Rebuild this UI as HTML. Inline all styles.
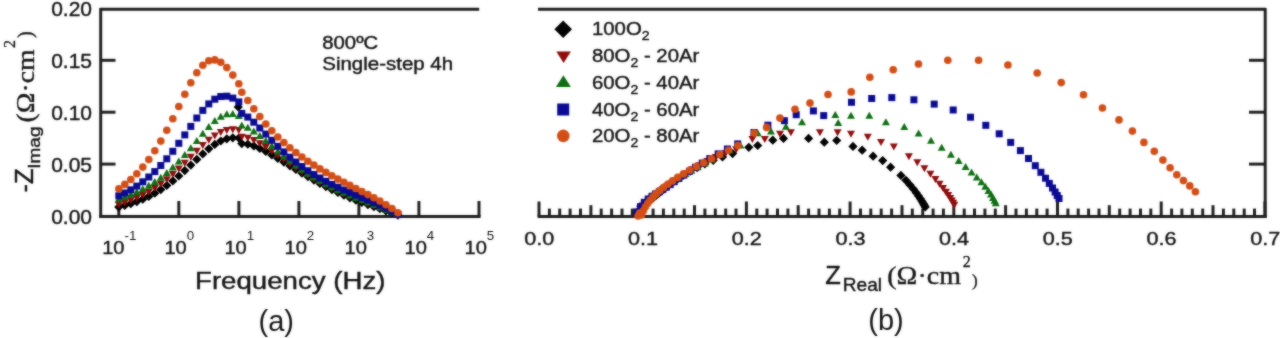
<!DOCTYPE html>
<html><head><meta charset="utf-8"><style>
html,body{margin:0;padding:0;background:#fff;}
body{width:1280px;height:338px;overflow:hidden;}
svg{display:block;}

</style></head><body>
<svg width="1280" height="338" viewBox="0 0 1280 338">
<defs><filter id="bl" x="-2%" y="-5%" width="104%" height="110%" color-interpolation-filters="sRGB"><feGaussianBlur stdDeviation="1.0"/></filter><filter id="idf" x="0" y="0" width="100%" height="100%"><feOffset dx="0" dy="0"/></filter></defs>
<g filter="url(#bl)"><rect width="1280" height="338" fill="#fff"/>
<g>
<g stroke="#1e1e1e" stroke-width="2.95" fill="none" stroke-linecap="butt"><path d="M100.7 9.2H479.2"/><path d="M100.7 7.9V217.8"/><path d="M99.3 216.4H480.6"/><path d="M100.7 164.1H115.5"/><path d="M100.7 112.2H115.5"/><path d="M100.7 60.3H115.5"/><path d="M118.8 201V216.4"/><path d="M178.8 201V216.4"/><path d="M238.9 201V216.4"/><path d="M298.9 201V216.4"/><path d="M358.9 201V216.4"/><path d="M418.9 201V216.4"/><path d="M479.0 201V216.4"/><path d="M538 9.2H1265.2"/><path d="M1265.2 7.9V217.8"/><path d="M537.6 216.4H1266.8"/><path d="M1249 164.1H1265.3"/><path d="M1249 112.2H1265.3"/><path d="M1249 60.3H1265.3"/><path d="M539.0 201.5V216.4"/><path d="M549.4 208.6V216.4"/><path d="M559.7 208.6V216.4"/><path d="M570.1 208.6V216.4"/><path d="M580.5 208.6V216.4"/><path d="M590.9 205.2V216.4"/><path d="M601.2 208.6V216.4"/><path d="M611.6 208.6V216.4"/><path d="M622.0 208.6V216.4"/><path d="M632.3 208.6V216.4"/><path d="M642.7 201.5V216.4"/><path d="M653.1 208.6V216.4"/><path d="M663.4 208.6V216.4"/><path d="M673.8 208.6V216.4"/><path d="M684.2 208.6V216.4"/><path d="M694.5 205.2V216.4"/><path d="M704.9 208.6V216.4"/><path d="M715.3 208.6V216.4"/><path d="M725.7 208.6V216.4"/><path d="M736.0 208.6V216.4"/><path d="M746.4 201.5V216.4"/><path d="M756.8 208.6V216.4"/><path d="M767.1 208.6V216.4"/><path d="M777.5 208.6V216.4"/><path d="M787.9 208.6V216.4"/><path d="M798.2 205.2V216.4"/><path d="M808.6 208.6V216.4"/><path d="M819.0 208.6V216.4"/><path d="M829.4 208.6V216.4"/><path d="M839.7 208.6V216.4"/><path d="M850.1 201.5V216.4"/><path d="M860.5 208.6V216.4"/><path d="M870.8 208.6V216.4"/><path d="M881.2 208.6V216.4"/><path d="M891.6 208.6V216.4"/><path d="M902.0 205.2V216.4"/><path d="M912.3 208.6V216.4"/><path d="M922.7 208.6V216.4"/><path d="M933.1 208.6V216.4"/><path d="M943.4 208.6V216.4"/><path d="M953.8 201.5V216.4"/><path d="M964.2 208.6V216.4"/><path d="M974.5 208.6V216.4"/><path d="M984.9 208.6V216.4"/><path d="M995.3 208.6V216.4"/><path d="M1005.6 205.2V216.4"/><path d="M1016.0 208.6V216.4"/><path d="M1026.4 208.6V216.4"/><path d="M1036.8 208.6V216.4"/><path d="M1047.1 208.6V216.4"/><path d="M1057.5 201.5V216.4"/><path d="M1067.9 208.6V216.4"/><path d="M1078.2 208.6V216.4"/><path d="M1088.6 208.6V216.4"/><path d="M1099.0 208.6V216.4"/><path d="M1109.3 205.2V216.4"/><path d="M1119.7 208.6V216.4"/><path d="M1130.1 208.6V216.4"/><path d="M1140.5 208.6V216.4"/><path d="M1150.8 208.6V216.4"/><path d="M1161.2 201.5V216.4"/><path d="M1171.6 208.6V216.4"/><path d="M1181.9 208.6V216.4"/><path d="M1192.3 208.6V216.4"/><path d="M1202.7 208.6V216.4"/><path d="M1213.0 205.2V216.4"/><path d="M1223.4 208.6V216.4"/><path d="M1233.8 208.6V216.4"/><path d="M1244.2 208.6V216.4"/><path d="M1254.5 208.6V216.4"/><path d="M1264.9 201.5V216.4"/></g>
<g><path d="M118.8 202.5L123.4 207.1L118.8 211.7L114.2 207.1Z" fill="#000000"/><path d="M124.8 200.9L129.4 205.5L124.8 210.1L120.2 205.5Z" fill="#000000"/><path d="M130.8 199.1L135.4 203.7L130.8 208.3L126.2 203.7Z" fill="#000000"/><path d="M136.8 197.0L141.4 201.6L136.8 206.2L132.2 201.6Z" fill="#000000"/><path d="M142.8 194.6L147.4 199.2L142.8 203.8L138.2 199.2Z" fill="#000000"/><path d="M148.8 191.8L153.4 196.4L148.8 201.0L144.2 196.4Z" fill="#000000"/><path d="M154.8 188.6L159.4 193.2L154.8 197.8L150.2 193.2Z" fill="#000000"/><path d="M160.8 185.0L165.4 189.6L160.8 194.2L156.2 189.6Z" fill="#000000"/><path d="M166.8 180.9L171.4 185.5L166.8 190.1L162.2 185.5Z" fill="#000000"/><path d="M172.8 176.3L177.4 180.9L172.8 185.5L168.2 180.9Z" fill="#000000"/><path d="M178.8 171.4L183.4 176.0L178.8 180.6L174.2 176.0Z" fill="#000000"/><path d="M184.8 166.0L189.4 170.6L184.8 175.2L180.2 170.6Z" fill="#000000"/><path d="M190.8 160.5L195.4 165.1L190.8 169.7L186.2 165.1Z" fill="#000000"/><path d="M196.8 154.8L201.4 159.4L196.8 164.0L192.2 159.4Z" fill="#000000"/><path d="M202.8 149.3L207.4 153.9L202.8 158.5L198.2 153.9Z" fill="#000000"/><path d="M208.8 144.2L213.4 148.8L208.8 153.4L204.2 148.8Z" fill="#000000"/><path d="M214.8 139.8L219.4 144.4L214.8 149.0L210.2 144.4Z" fill="#000000"/><path d="M220.8 136.4L225.4 141.0L220.8 145.6L216.2 141.0Z" fill="#000000"/><path d="M226.8 134.2L231.4 138.8L226.8 143.4L222.2 138.8Z" fill="#000000"/><path d="M232.8 133.2L237.4 137.8L232.8 142.4L228.2 137.8Z" fill="#000000"/><path d="M238.8 133.4L243.4 138.0L238.8 142.6L234.2 138.0Z" fill="#000000"/><path d="M241.8 139.0L246.4 143.6L241.8 148.2L237.2 143.6Z" fill="#000000"/><path d="M247.8 139.6L252.4 144.2L247.8 148.8L243.2 144.2Z" fill="#000000"/><path d="M253.8 141.4L258.4 146.0L253.8 150.6L249.2 146.0Z" fill="#000000"/><path d="M259.8 143.9L264.4 148.5L259.8 153.1L255.2 148.5Z" fill="#000000"/><path d="M265.8 146.9L270.4 151.5L265.8 156.1L261.2 151.5Z" fill="#000000"/><path d="M271.8 150.3L276.4 154.9L271.8 159.5L267.2 154.9Z" fill="#000000"/><path d="M277.8 153.9L282.4 158.5L277.8 163.1L273.2 158.5Z" fill="#000000"/><path d="M283.9 157.5L288.5 162.1L283.9 166.7L279.3 162.1Z" fill="#000000"/><path d="M289.9 161.2L294.5 165.8L289.9 170.4L285.3 165.8Z" fill="#000000"/><path d="M295.9 164.9L300.5 169.5L295.9 174.1L291.3 169.5Z" fill="#000000"/><path d="M301.9 168.5L306.5 173.1L301.9 177.7L297.3 173.1Z" fill="#000000"/><path d="M307.9 172.0L312.5 176.6L307.9 181.2L303.3 176.6Z" fill="#000000"/><path d="M313.9 175.5L318.5 180.1L313.9 184.7L309.3 180.1Z" fill="#000000"/><path d="M319.9 178.8L324.5 183.4L319.9 188.0L315.3 183.4Z" fill="#000000"/><path d="M325.9 182.0L330.5 186.6L325.9 191.2L321.3 186.6Z" fill="#000000"/><path d="M331.9 185.0L336.5 189.6L331.9 194.2L327.3 189.6Z" fill="#000000"/><path d="M337.9 187.9L342.5 192.5L337.9 197.1L333.3 192.5Z" fill="#000000"/><path d="M343.9 190.6L348.5 195.2L343.9 199.8L339.3 195.2Z" fill="#000000"/><path d="M349.9 193.2L354.5 197.8L349.9 202.4L345.3 197.8Z" fill="#000000"/><path d="M355.9 195.6L360.5 200.2L355.9 204.8L351.3 200.2Z" fill="#000000"/><path d="M361.9 197.9L366.5 202.5L361.9 207.1L357.3 202.5Z" fill="#000000"/><path d="M367.9 200.0L372.5 204.6L367.9 209.2L363.3 204.6Z" fill="#000000"/><path d="M373.9 202.1L378.5 206.7L373.9 211.3L369.3 206.7Z" fill="#000000"/><path d="M379.9 204.1L384.5 208.7L379.9 213.3L375.3 208.7Z" fill="#000000"/><path d="M385.9 206.2L390.5 210.8L385.9 215.4L381.3 210.8Z" fill="#000000"/><path d="M391.9 208.3L396.5 212.9L391.9 217.5L387.3 212.9Z" fill="#000000"/><path d="M397.9 210.5L402.5 215.1L397.9 219.7L393.3 215.1Z" fill="#000000"/><path d="M238.2 102.4L242.8 107.0L238.2 111.6L233.6 107.0Z" fill="#000000"/><path d="M118.8 208.4L122.8 201.4L114.8 201.4Z" fill="#8e0c0c"/><path d="M124.8 206.5L128.8 199.5L120.8 199.5Z" fill="#8e0c0c"/><path d="M130.8 204.3L134.8 197.3L126.8 197.3Z" fill="#8e0c0c"/><path d="M136.8 201.8L140.8 194.8L132.8 194.8Z" fill="#8e0c0c"/><path d="M142.8 198.9L146.8 191.9L138.8 191.9Z" fill="#8e0c0c"/><path d="M148.8 195.7L152.8 188.7L144.8 188.7Z" fill="#8e0c0c"/><path d="M154.8 192.0L158.8 185.0L150.8 185.0Z" fill="#8e0c0c"/><path d="M160.8 187.8L164.8 180.8L156.8 180.8Z" fill="#8e0c0c"/><path d="M166.8 183.2L170.8 176.2L162.8 176.2Z" fill="#8e0c0c"/><path d="M172.8 178.1L176.8 171.1L168.8 171.1Z" fill="#8e0c0c"/><path d="M178.8 172.6L182.8 165.6L174.8 165.6Z" fill="#8e0c0c"/><path d="M184.8 166.8L188.8 159.8L180.8 159.8Z" fill="#8e0c0c"/><path d="M190.8 160.8L194.8 153.8L186.8 153.8Z" fill="#8e0c0c"/><path d="M196.8 154.8L200.8 147.8L192.8 147.8Z" fill="#8e0c0c"/><path d="M202.8 149.0L206.8 142.0L198.8 142.0Z" fill="#8e0c0c"/><path d="M208.8 143.8L212.8 136.8L204.8 136.8Z" fill="#8e0c0c"/><path d="M214.8 139.4L218.8 132.4L210.8 132.4Z" fill="#8e0c0c"/><path d="M220.8 136.0L224.8 129.0L216.8 129.0Z" fill="#8e0c0c"/><path d="M226.8 134.0L230.8 127.0L222.8 127.0Z" fill="#8e0c0c"/><path d="M232.8 133.3L236.8 126.3L228.8 126.3Z" fill="#8e0c0c"/><path d="M238.8 134.0L242.8 127.0L234.8 127.0Z" fill="#8e0c0c"/><path d="M241.8 140.8L245.8 133.8L237.8 133.8Z" fill="#8e0c0c"/><path d="M247.8 141.8L251.8 134.8L243.8 134.8Z" fill="#8e0c0c"/><path d="M253.8 144.0L257.8 137.0L249.8 137.0Z" fill="#8e0c0c"/><path d="M259.8 147.2L263.8 140.2L255.8 140.2Z" fill="#8e0c0c"/><path d="M265.8 150.9L269.8 143.9L261.8 143.9Z" fill="#8e0c0c"/><path d="M271.8 155.0L275.8 148.0L267.8 148.0Z" fill="#8e0c0c"/><path d="M277.8 159.3L281.8 152.3L273.8 152.3Z" fill="#8e0c0c"/><path d="M283.9 163.5L287.9 156.5L279.9 156.5Z" fill="#8e0c0c"/><path d="M289.9 167.7L293.9 160.7L285.9 160.7Z" fill="#8e0c0c"/><path d="M295.9 171.7L299.9 164.7L291.9 164.7Z" fill="#8e0c0c"/><path d="M301.9 175.6L305.9 168.6L297.9 168.6Z" fill="#8e0c0c"/><path d="M307.9 179.3L311.9 172.3L303.9 172.3Z" fill="#8e0c0c"/><path d="M313.9 182.8L317.9 175.8L309.9 175.8Z" fill="#8e0c0c"/><path d="M319.9 186.1L323.9 179.1L315.9 179.1Z" fill="#8e0c0c"/><path d="M325.9 189.2L329.9 182.2L321.9 182.2Z" fill="#8e0c0c"/><path d="M331.9 192.2L335.9 185.2L327.9 185.2Z" fill="#8e0c0c"/><path d="M337.9 195.0L341.9 188.0L333.9 188.0Z" fill="#8e0c0c"/><path d="M343.9 197.7L347.9 190.7L339.9 190.7Z" fill="#8e0c0c"/><path d="M349.9 200.2L353.9 193.2L345.9 193.2Z" fill="#8e0c0c"/><path d="M355.9 202.6L359.9 195.6L351.9 195.6Z" fill="#8e0c0c"/><path d="M361.9 204.9L365.9 197.9L357.9 197.9Z" fill="#8e0c0c"/><path d="M367.9 207.2L371.9 200.2L363.9 200.2Z" fill="#8e0c0c"/><path d="M373.9 209.4L377.9 202.4L369.9 202.4Z" fill="#8e0c0c"/><path d="M379.9 211.6L383.9 204.6L375.9 204.6Z" fill="#8e0c0c"/><path d="M385.9 213.8L389.9 206.8L381.9 206.8Z" fill="#8e0c0c"/><path d="M391.9 216.2L395.9 209.2L387.9 209.2Z" fill="#8e0c0c"/><path d="M397.9 218.8L401.9 211.8L393.9 211.8Z" fill="#8e0c0c"/><path d="M118.8 195.3L122.8 202.3L114.8 202.3Z" fill="#0e6e12"/><path d="M124.8 193.2L128.8 200.2L120.8 200.2Z" fill="#0e6e12"/><path d="M130.8 190.8L134.8 197.8L126.8 197.8Z" fill="#0e6e12"/><path d="M136.8 188.2L140.8 195.2L132.8 195.2Z" fill="#0e6e12"/><path d="M142.8 185.2L146.8 192.2L138.8 192.2Z" fill="#0e6e12"/><path d="M148.8 181.8L152.8 188.8L144.8 188.8Z" fill="#0e6e12"/><path d="M154.8 177.9L158.8 184.9L150.8 184.9Z" fill="#0e6e12"/><path d="M160.8 173.7L164.8 180.7L156.8 180.7Z" fill="#0e6e12"/><path d="M166.8 168.9L170.8 175.9L162.8 175.9Z" fill="#0e6e12"/><path d="M172.8 163.5L176.8 170.5L168.8 170.5Z" fill="#0e6e12"/><path d="M178.8 157.6L182.8 164.6L174.8 164.6Z" fill="#0e6e12"/><path d="M184.8 151.1L188.8 158.1L180.8 158.1Z" fill="#0e6e12"/><path d="M190.8 144.2L194.8 151.2L186.8 151.2Z" fill="#0e6e12"/><path d="M196.8 137.0L200.8 144.0L192.8 144.0Z" fill="#0e6e12"/><path d="M202.8 129.8L206.8 136.8L198.8 136.8Z" fill="#0e6e12"/><path d="M208.8 123.0L212.8 130.0L204.8 130.0Z" fill="#0e6e12"/><path d="M214.8 117.1L218.8 124.1L210.8 124.1Z" fill="#0e6e12"/><path d="M220.8 112.7L224.8 119.7L216.8 119.7Z" fill="#0e6e12"/><path d="M226.8 110.3L230.8 117.3L222.8 117.3Z" fill="#0e6e12"/><path d="M232.8 110.0L236.8 117.0L228.8 117.0Z" fill="#0e6e12"/><path d="M238.8 111.9L242.8 118.9L234.8 118.9Z" fill="#0e6e12"/><path d="M241.8 121.5L245.8 128.5L237.8 128.5Z" fill="#0e6e12"/><path d="M247.8 123.7L251.8 130.7L243.8 130.7Z" fill="#0e6e12"/><path d="M253.8 127.5L257.8 134.5L249.8 134.5Z" fill="#0e6e12"/><path d="M259.8 132.1L263.8 139.1L255.8 139.1Z" fill="#0e6e12"/><path d="M265.8 137.1L269.8 144.1L261.8 144.1Z" fill="#0e6e12"/><path d="M271.8 142.3L275.8 149.3L267.8 149.3Z" fill="#0e6e12"/><path d="M277.8 147.5L281.8 154.5L273.8 154.5Z" fill="#0e6e12"/><path d="M283.9 152.4L287.9 159.4L279.9 159.4Z" fill="#0e6e12"/><path d="M289.9 157.1L293.9 164.1L285.9 164.1Z" fill="#0e6e12"/><path d="M295.9 161.6L299.9 168.6L291.9 168.6Z" fill="#0e6e12"/><path d="M301.9 165.8L305.9 172.8L297.9 172.8Z" fill="#0e6e12"/><path d="M307.9 169.8L311.9 176.8L303.9 176.8Z" fill="#0e6e12"/><path d="M313.9 173.5L317.9 180.5L309.9 180.5Z" fill="#0e6e12"/><path d="M319.9 177.0L323.9 184.0L315.9 184.0Z" fill="#0e6e12"/><path d="M325.9 180.3L329.9 187.3L321.9 187.3Z" fill="#0e6e12"/><path d="M331.9 183.3L335.9 190.3L327.9 190.3Z" fill="#0e6e12"/><path d="M337.9 186.2L341.9 193.2L333.9 193.2Z" fill="#0e6e12"/><path d="M343.9 188.9L347.9 195.9L339.9 195.9Z" fill="#0e6e12"/><path d="M349.9 191.5L353.9 198.5L345.9 198.5Z" fill="#0e6e12"/><path d="M355.9 194.0L359.9 201.0L351.9 201.0Z" fill="#0e6e12"/><path d="M361.9 196.3L365.9 203.3L357.9 203.3Z" fill="#0e6e12"/><path d="M367.9 198.6L371.9 205.6L363.9 205.6Z" fill="#0e6e12"/><path d="M373.9 200.9L377.9 207.9L369.9 207.9Z" fill="#0e6e12"/><path d="M379.9 203.2L383.9 210.2L375.9 210.2Z" fill="#0e6e12"/><path d="M385.9 205.7L389.9 212.7L381.9 212.7Z" fill="#0e6e12"/><path d="M391.9 208.2L395.9 215.2L387.9 215.2Z" fill="#0e6e12"/><path d="M397.9 211.1L401.9 218.1L393.9 218.1Z" fill="#0e6e12"/><rect x="115.3" y="192.3" width="7.0" height="7.0" fill="#0a0a92"/><rect x="121.3" y="189.5" width="7.0" height="7.0" fill="#0a0a92"/><rect x="127.3" y="186.3" width="7.0" height="7.0" fill="#0a0a92"/><rect x="133.3" y="182.6" width="7.0" height="7.0" fill="#0a0a92"/><rect x="139.3" y="178.3" width="7.0" height="7.0" fill="#0a0a92"/><rect x="145.3" y="173.5" width="7.0" height="7.0" fill="#0a0a92"/><rect x="151.3" y="168.1" width="7.0" height="7.0" fill="#0a0a92"/><rect x="157.3" y="162.0" width="7.0" height="7.0" fill="#0a0a92"/><rect x="163.3" y="155.3" width="7.0" height="7.0" fill="#0a0a92"/><rect x="169.3" y="147.8" width="7.0" height="7.0" fill="#0a0a92"/><rect x="175.3" y="139.8" width="7.0" height="7.0" fill="#0a0a92"/><rect x="181.3" y="131.4" width="7.0" height="7.0" fill="#0a0a92"/><rect x="187.3" y="122.9" width="7.0" height="7.0" fill="#0a0a92"/><rect x="193.3" y="114.5" width="7.0" height="7.0" fill="#0a0a92"/><rect x="199.3" y="106.9" width="7.0" height="7.0" fill="#0a0a92"/><rect x="205.3" y="100.4" width="7.0" height="7.0" fill="#0a0a92"/><rect x="211.3" y="95.7" width="7.0" height="7.0" fill="#0a0a92"/><rect x="217.3" y="93.0" width="7.0" height="7.0" fill="#0a0a92"/><rect x="223.3" y="92.7" width="7.0" height="7.0" fill="#0a0a92"/><rect x="229.3" y="94.6" width="7.0" height="7.0" fill="#0a0a92"/><rect x="235.3" y="98.4" width="7.0" height="7.0" fill="#0a0a92"/><rect x="238.3" y="109.9" width="7.0" height="7.0" fill="#0a0a92"/><rect x="244.3" y="113.6" width="7.0" height="7.0" fill="#0a0a92"/><rect x="250.3" y="118.7" width="7.0" height="7.0" fill="#0a0a92"/><rect x="256.3" y="124.5" width="7.0" height="7.0" fill="#0a0a92"/><rect x="262.3" y="130.6" width="7.0" height="7.0" fill="#0a0a92"/><rect x="268.3" y="136.8" width="7.0" height="7.0" fill="#0a0a92"/><rect x="274.3" y="142.8" width="7.0" height="7.0" fill="#0a0a92"/><rect x="280.4" y="148.4" width="7.0" height="7.0" fill="#0a0a92"/><rect x="286.4" y="153.7" width="7.0" height="7.0" fill="#0a0a92"/><rect x="292.4" y="158.5" width="7.0" height="7.0" fill="#0a0a92"/><rect x="298.4" y="163.0" width="7.0" height="7.0" fill="#0a0a92"/><rect x="304.4" y="167.2" width="7.0" height="7.0" fill="#0a0a92"/><rect x="310.4" y="171.0" width="7.0" height="7.0" fill="#0a0a92"/><rect x="316.4" y="174.5" width="7.0" height="7.0" fill="#0a0a92"/><rect x="322.4" y="177.8" width="7.0" height="7.0" fill="#0a0a92"/><rect x="328.4" y="180.9" width="7.0" height="7.0" fill="#0a0a92"/><rect x="334.4" y="183.7" width="7.0" height="7.0" fill="#0a0a92"/><rect x="340.4" y="186.5" width="7.0" height="7.0" fill="#0a0a92"/><rect x="346.4" y="189.1" width="7.0" height="7.0" fill="#0a0a92"/><rect x="352.4" y="191.6" width="7.0" height="7.0" fill="#0a0a92"/><rect x="358.4" y="194.1" width="7.0" height="7.0" fill="#0a0a92"/><rect x="364.4" y="196.6" width="7.0" height="7.0" fill="#0a0a92"/><rect x="370.4" y="199.1" width="7.0" height="7.0" fill="#0a0a92"/><rect x="376.4" y="201.8" width="7.0" height="7.0" fill="#0a0a92"/><rect x="382.4" y="204.6" width="7.0" height="7.0" fill="#0a0a92"/><rect x="388.4" y="207.7" width="7.0" height="7.0" fill="#0a0a92"/><rect x="394.4" y="211.1" width="7.0" height="7.0" fill="#0a0a92"/><circle cx="118.8" cy="188.7" r="3.80" fill="#d24e16"/><circle cx="124.8" cy="184.4" r="3.80" fill="#d24e16"/><circle cx="130.8" cy="179.5" r="3.80" fill="#d24e16"/><circle cx="136.8" cy="173.7" r="3.80" fill="#d24e16"/><circle cx="142.8" cy="167.1" r="3.80" fill="#d24e16"/><circle cx="148.8" cy="159.5" r="3.80" fill="#d24e16"/><circle cx="154.8" cy="150.8" r="3.80" fill="#d24e16"/><circle cx="160.8" cy="141.1" r="3.80" fill="#d24e16"/><circle cx="166.8" cy="130.3" r="3.80" fill="#d24e16"/><circle cx="172.8" cy="118.7" r="3.80" fill="#d24e16"/><circle cx="178.8" cy="106.5" r="3.80" fill="#d24e16"/><circle cx="184.8" cy="94.3" r="3.80" fill="#d24e16"/><circle cx="190.8" cy="82.8" r="3.80" fill="#d24e16"/><circle cx="196.8" cy="72.8" r="3.80" fill="#d24e16"/><circle cx="202.8" cy="65.2" r="3.80" fill="#d24e16"/><circle cx="208.8" cy="60.8" r="3.80" fill="#d24e16"/><circle cx="214.8" cy="59.9" r="3.80" fill="#d24e16"/><circle cx="220.8" cy="62.3" r="3.80" fill="#d24e16"/><circle cx="226.8" cy="67.6" r="3.80" fill="#d24e16"/><circle cx="232.8" cy="75.1" r="3.80" fill="#d24e16"/><circle cx="238.8" cy="83.7" r="3.80" fill="#d24e16"/><circle cx="241.8" cy="92.3" r="3.80" fill="#d24e16"/><circle cx="247.8" cy="100.5" r="3.80" fill="#d24e16"/><circle cx="253.8" cy="108.8" r="3.80" fill="#d24e16"/><circle cx="259.8" cy="116.6" r="3.80" fill="#d24e16"/><circle cx="265.8" cy="124.0" r="3.80" fill="#d24e16"/><circle cx="271.8" cy="130.8" r="3.80" fill="#d24e16"/><circle cx="277.8" cy="137.0" r="3.80" fill="#d24e16"/><circle cx="283.9" cy="142.6" r="3.80" fill="#d24e16"/><circle cx="289.9" cy="147.8" r="3.80" fill="#d24e16"/><circle cx="295.9" cy="152.6" r="3.80" fill="#d24e16"/><circle cx="301.9" cy="157.0" r="3.80" fill="#d24e16"/><circle cx="307.9" cy="161.2" r="3.80" fill="#d24e16"/><circle cx="313.9" cy="165.1" r="3.80" fill="#d24e16"/><circle cx="319.9" cy="168.9" r="3.80" fill="#d24e16"/><circle cx="325.9" cy="172.4" r="3.80" fill="#d24e16"/><circle cx="331.9" cy="175.8" r="3.80" fill="#d24e16"/><circle cx="337.9" cy="179.1" r="3.80" fill="#d24e16"/><circle cx="343.9" cy="182.3" r="3.80" fill="#d24e16"/><circle cx="349.9" cy="185.4" r="3.80" fill="#d24e16"/><circle cx="355.9" cy="188.5" r="3.80" fill="#d24e16"/><circle cx="361.9" cy="191.6" r="3.80" fill="#d24e16"/><circle cx="367.9" cy="194.6" r="3.80" fill="#d24e16"/><circle cx="373.9" cy="197.8" r="3.80" fill="#d24e16"/><circle cx="379.9" cy="201.1" r="3.80" fill="#d24e16"/><circle cx="385.9" cy="204.7" r="3.80" fill="#d24e16"/><circle cx="391.9" cy="208.5" r="3.80" fill="#d24e16"/><circle cx="397.9" cy="212.8" r="3.80" fill="#d24e16"/><path d="M925.2 202.3L929.8 206.9L925.2 211.5L920.6 206.9Z" fill="#000000"/><path d="M924.3 200.7L928.9 205.3L924.3 209.9L919.7 205.3Z" fill="#000000"/><path d="M923.3 198.8L927.9 203.4L923.3 208.0L918.7 203.4Z" fill="#000000"/><path d="M922.0 196.7L926.6 201.3L922.0 205.9L917.4 201.3Z" fill="#000000"/><path d="M920.4 194.2L925.0 198.8L920.4 203.4L915.8 198.8Z" fill="#000000"/><path d="M918.5 191.3L923.1 195.9L918.5 200.5L913.9 195.9Z" fill="#000000"/><path d="M916.2 188.1L920.8 192.7L916.2 197.3L911.6 192.7Z" fill="#000000"/><path d="M913.4 184.4L918.0 189.0L913.4 193.6L908.8 189.0Z" fill="#000000"/><path d="M910.0 180.3L914.6 184.9L910.0 189.5L905.4 184.9Z" fill="#000000"/><path d="M905.9 175.7L910.5 180.3L905.9 184.9L901.3 180.3Z" fill="#000000"/><path d="M900.9 170.8L905.5 175.4L900.9 180.0L896.3 175.4Z" fill="#000000"/><path d="M732.6 149.0L737.2 153.6L732.6 158.2L728.0 153.6Z" fill="#000000"/><path d="M722.5 152.3L727.1 156.9L722.5 161.5L717.9 156.9Z" fill="#000000"/><path d="M713.2 155.7L717.8 160.3L713.2 164.9L708.6 160.3Z" fill="#000000"/><path d="M704.8 159.3L709.4 163.9L704.8 168.5L700.2 163.9Z" fill="#000000"/><path d="M697.1 163.0L701.7 167.6L697.1 172.2L692.5 167.6Z" fill="#000000"/><path d="M690.1 166.6L694.7 171.2L690.1 175.8L685.5 171.2Z" fill="#000000"/><path d="M683.8 170.3L688.4 174.9L683.8 179.5L679.2 174.9Z" fill="#000000"/><path d="M678.2 173.9L682.8 178.5L678.2 183.1L673.6 178.5Z" fill="#000000"/><path d="M673.2 177.4L677.8 182.0L673.2 186.6L668.6 182.0Z" fill="#000000"/><path d="M668.9 180.6L673.5 185.2L668.9 189.8L664.3 185.2Z" fill="#000000"/><path d="M665.0 183.6L669.6 188.2L665.0 192.8L660.4 188.2Z" fill="#000000"/><path d="M661.7 186.4L666.3 191.0L661.7 195.6L657.1 191.0Z" fill="#000000"/><path d="M658.6 188.9L663.2 193.5L658.6 198.1L654.0 193.5Z" fill="#000000"/><path d="M655.8 191.1L660.4 195.7L655.8 200.3L651.2 195.7Z" fill="#000000"/><path d="M653.2 193.2L657.8 197.8L653.2 202.4L648.6 197.8Z" fill="#000000"/><path d="M650.6 195.2L655.2 199.8L650.6 204.4L646.0 199.8Z" fill="#000000"/><path d="M648.0 197.2L652.6 201.8L648.0 206.4L643.4 201.8Z" fill="#000000"/><path d="M645.4 199.4L650.0 204.0L645.4 208.6L640.8 204.0Z" fill="#000000"/><path d="M642.7 202.0L647.3 206.6L642.7 211.2L638.1 206.6Z" fill="#000000"/><path d="M639.9 205.1L644.5 209.7L639.9 214.3L635.3 209.7Z" fill="#000000"/><path d="M637.3 209.0L641.9 213.6L637.3 218.2L632.7 213.6Z" fill="#000000"/><path d="M748.8 142.7L753.4 147.3L748.8 151.9L744.2 147.3Z" fill="#000000"/><path d="M757.7 140.9L762.3 145.5L757.7 150.1L753.1 145.5Z" fill="#000000"/><path d="M772.8 135.6L777.4 140.2L772.8 144.8L768.2 140.2Z" fill="#000000"/><path d="M783.5 133.8L788.1 138.4L783.5 143.0L778.9 138.4Z" fill="#000000"/><path d="M808.6 133.8L813.2 138.4L808.6 143.0L804.0 138.4Z" fill="#000000"/><path d="M824.3 137.6L828.9 142.2L824.3 146.8L819.7 142.2Z" fill="#000000"/><path d="M836.7 135.9L841.3 140.5L836.7 145.1L832.1 140.5Z" fill="#000000"/><path d="M853.0 141.8L857.6 146.4L853.0 151.0L848.4 146.4Z" fill="#000000"/><path d="M862.2 145.6L866.8 150.2L862.2 154.8L857.6 150.2Z" fill="#000000"/><path d="M873.1 151.6L877.7 156.2L873.1 160.8L868.5 156.2Z" fill="#000000"/><path d="M882.7 156.0L887.3 160.6L882.7 165.2L878.1 160.6Z" fill="#000000"/><path d="M890.6 162.6L895.2 167.2L890.6 171.8L886.0 167.2Z" fill="#000000"/><path d="M954.3 208.7L958.3 201.7L950.3 201.7Z" fill="#8e0c0c"/><path d="M953.1 206.8L957.1 199.8L949.1 199.8Z" fill="#8e0c0c"/><path d="M951.8 204.6L955.8 197.6L947.8 197.6Z" fill="#8e0c0c"/><path d="M950.2 202.0L954.2 195.0L946.2 195.0Z" fill="#8e0c0c"/><path d="M948.2 199.1L952.2 192.1L944.2 192.1Z" fill="#8e0c0c"/><path d="M945.9 195.8L949.9 188.8L941.9 188.8Z" fill="#8e0c0c"/><path d="M943.0 192.0L947.0 185.0L939.0 185.0Z" fill="#8e0c0c"/><path d="M939.6 187.7L943.6 180.7L935.6 180.7Z" fill="#8e0c0c"/><path d="M935.4 183.0L939.4 176.0L931.4 176.0Z" fill="#8e0c0c"/><path d="M930.4 177.8L934.4 170.8L926.4 170.8Z" fill="#8e0c0c"/><path d="M924.4 172.2L928.4 165.2L920.4 165.2Z" fill="#8e0c0c"/><path d="M917.3 166.3L921.3 159.3L913.3 159.3Z" fill="#8e0c0c"/><path d="M908.9 160.3L912.9 153.3L904.9 153.3Z" fill="#8e0c0c"/><path d="M736.2 153.2L740.2 146.2L732.2 146.2Z" fill="#8e0c0c"/><path d="M725.6 157.0L729.6 150.0L721.6 150.0Z" fill="#8e0c0c"/><path d="M715.9 160.9L719.9 153.9L711.9 153.9Z" fill="#8e0c0c"/><path d="M707.3 165.0L711.3 158.0L703.3 158.0Z" fill="#8e0c0c"/><path d="M699.4 169.2L703.4 162.2L695.4 162.2Z" fill="#8e0c0c"/><path d="M692.4 173.2L696.4 166.2L688.4 166.2Z" fill="#8e0c0c"/><path d="M686.2 177.2L690.2 170.2L682.2 170.2Z" fill="#8e0c0c"/><path d="M680.6 180.9L684.6 173.9L676.6 173.9Z" fill="#8e0c0c"/><path d="M675.7 184.4L679.7 177.4L671.7 177.4Z" fill="#8e0c0c"/><path d="M671.3 187.6L675.3 180.6L667.3 180.6Z" fill="#8e0c0c"/><path d="M667.4 190.5L671.4 183.5L663.4 183.5Z" fill="#8e0c0c"/><path d="M663.8 193.2L667.8 186.2L659.8 186.2Z" fill="#8e0c0c"/><path d="M660.6 195.6L664.6 188.6L656.6 188.6Z" fill="#8e0c0c"/><path d="M657.5 197.8L661.5 190.8L653.5 190.8Z" fill="#8e0c0c"/><path d="M654.5 199.8L658.5 192.8L650.5 192.8Z" fill="#8e0c0c"/><path d="M651.6 201.9L655.6 194.9L647.6 194.9Z" fill="#8e0c0c"/><path d="M648.6 204.1L652.6 197.1L644.6 197.1Z" fill="#8e0c0c"/><path d="M645.7 206.5L649.7 199.5L641.7 199.5Z" fill="#8e0c0c"/><path d="M642.8 209.4L646.8 202.4L638.8 202.4Z" fill="#8e0c0c"/><path d="M640.0 212.8L644.0 205.8L636.0 205.8Z" fill="#8e0c0c"/><path d="M637.3 217.0L641.3 210.0L633.3 210.0Z" fill="#8e0c0c"/><path d="M752.4 143.1L756.4 136.1L748.4 136.1Z" fill="#8e0c0c"/><path d="M764.8 143.1L768.8 136.1L760.8 136.1Z" fill="#8e0c0c"/><path d="M780.0 137.8L784.0 130.8L776.0 130.8Z" fill="#8e0c0c"/><path d="M790.9 136.3L794.9 129.3L786.9 129.3Z" fill="#8e0c0c"/><path d="M819.9 136.3L823.9 129.3L815.9 129.3Z" fill="#8e0c0c"/><path d="M837.6 136.3L841.6 129.3L833.6 129.3Z" fill="#8e0c0c"/><path d="M851.0 137.8L855.0 130.8L847.0 130.8Z" fill="#8e0c0c"/><path d="M867.8 140.8L871.8 133.8L863.8 133.8Z" fill="#8e0c0c"/><path d="M881.0 146.0L885.0 139.0L877.0 139.0Z" fill="#8e0c0c"/><path d="M893.8 150.5L897.8 143.5L889.8 143.5Z" fill="#8e0c0c"/><path d="M995.8 199.2L999.8 206.2L991.8 206.2Z" fill="#0e6e12"/><path d="M994.6 196.7L998.6 203.7L990.6 203.7Z" fill="#0e6e12"/><path d="M993.0 193.9L997.0 200.9L989.0 200.9Z" fill="#0e6e12"/><path d="M991.0 190.6L995.0 197.6L987.0 197.6Z" fill="#0e6e12"/><path d="M988.4 186.9L992.4 193.9L984.4 193.9Z" fill="#0e6e12"/><path d="M985.3 182.8L989.3 189.8L981.3 189.8Z" fill="#0e6e12"/><path d="M981.4 178.3L985.4 185.3L977.4 185.3Z" fill="#0e6e12"/><path d="M976.8 173.6L980.8 180.6L972.8 180.6Z" fill="#0e6e12"/><path d="M971.6 168.5L975.6 175.5L967.6 175.5Z" fill="#0e6e12"/><path d="M965.6 163.0L969.6 170.0L961.6 170.0Z" fill="#0e6e12"/><path d="M958.7 157.1L962.7 164.1L954.7 164.1Z" fill="#0e6e12"/><path d="M950.9 150.7L954.9 157.7L946.9 157.7Z" fill="#0e6e12"/><path d="M941.7 143.8L945.7 150.8L937.7 150.8Z" fill="#0e6e12"/><path d="M931.0 136.7L935.0 143.7L927.0 143.7Z" fill="#0e6e12"/><path d="M918.6 129.6L922.6 136.6L914.6 136.6Z" fill="#0e6e12"/><path d="M904.3 123.0L908.3 130.0L900.3 130.0Z" fill="#0e6e12"/><path d="M740.4 141.6L744.4 148.6L736.4 148.6Z" fill="#0e6e12"/><path d="M729.9 146.5L733.9 153.5L725.9 153.5Z" fill="#0e6e12"/><path d="M720.6 151.1L724.6 158.1L716.6 158.1Z" fill="#0e6e12"/><path d="M712.2 155.4L716.2 162.4L708.2 162.4Z" fill="#0e6e12"/><path d="M704.7 159.5L708.7 166.5L700.7 166.5Z" fill="#0e6e12"/><path d="M697.7 163.2L701.7 170.2L693.7 170.2Z" fill="#0e6e12"/><path d="M691.3 166.7L695.3 173.7L687.3 173.7Z" fill="#0e6e12"/><path d="M685.4 170.0L689.4 177.0L681.4 177.0Z" fill="#0e6e12"/><path d="M679.9 173.1L683.9 180.1L675.9 180.1Z" fill="#0e6e12"/><path d="M674.7 176.0L678.7 183.0L670.7 183.0Z" fill="#0e6e12"/><path d="M669.9 178.9L673.9 185.9L665.9 185.9Z" fill="#0e6e12"/><path d="M665.5 181.6L669.5 188.6L661.5 188.6Z" fill="#0e6e12"/><path d="M661.3 184.4L665.3 191.4L657.3 191.4Z" fill="#0e6e12"/><path d="M657.5 187.1L661.5 194.1L653.5 194.1Z" fill="#0e6e12"/><path d="M654.1 189.8L658.1 196.8L650.1 196.8Z" fill="#0e6e12"/><path d="M650.9 192.6L654.9 199.6L646.9 199.6Z" fill="#0e6e12"/><path d="M648.0 195.5L652.0 202.5L644.0 202.5Z" fill="#0e6e12"/><path d="M645.4 198.5L649.4 205.5L641.4 205.5Z" fill="#0e6e12"/><path d="M643.0 201.7L647.0 208.7L639.0 208.7Z" fill="#0e6e12"/><path d="M640.9 205.1L644.9 212.1L636.9 212.1Z" fill="#0e6e12"/><path d="M639.0 209.0L643.0 216.0L635.0 216.0Z" fill="#0e6e12"/><path d="M757.7 129.3L761.7 136.3L753.7 136.3Z" fill="#0e6e12"/><path d="M771.0 127.5L775.0 134.5L767.0 134.5Z" fill="#0e6e12"/><path d="M785.9 122.8L789.9 129.8L781.9 129.8Z" fill="#0e6e12"/><path d="M802.0 118.2L806.0 125.2L798.0 125.2Z" fill="#0e6e12"/><path d="M835.3 110.9L839.3 117.9L831.3 117.9Z" fill="#0e6e12"/><path d="M838.2 118.9L842.2 125.9L834.2 125.9Z" fill="#0e6e12"/><path d="M851.0 111.8L855.0 118.8L847.0 118.8Z" fill="#0e6e12"/><path d="M869.3 111.8L873.3 118.8L865.3 118.8Z" fill="#0e6e12"/><path d="M885.9 118.2L889.9 125.2L881.9 125.2Z" fill="#0e6e12"/><rect x="1055.5" y="195.0" width="7.0" height="7.0" fill="#0a0a92"/><rect x="1053.7" y="192.0" width="7.0" height="7.0" fill="#0a0a92"/><rect x="1051.6" y="188.5" width="7.0" height="7.0" fill="#0a0a92"/><rect x="1049.0" y="184.5" width="7.0" height="7.0" fill="#0a0a92"/><rect x="1045.8" y="179.9" width="7.0" height="7.0" fill="#0a0a92"/><rect x="1042.0" y="174.7" width="7.0" height="7.0" fill="#0a0a92"/><rect x="1037.4" y="168.8" width="7.0" height="7.0" fill="#0a0a92"/><rect x="1031.8" y="162.2" width="7.0" height="7.0" fill="#0a0a92"/><rect x="1025.0" y="155.0" width="7.0" height="7.0" fill="#0a0a92"/><rect x="1016.9" y="147.1" width="7.0" height="7.0" fill="#0a0a92"/><rect x="1007.2" y="138.9" width="7.0" height="7.0" fill="#0a0a92"/><rect x="995.7" y="130.3" width="7.0" height="7.0" fill="#0a0a92"/><rect x="982.3" y="121.8" width="7.0" height="7.0" fill="#0a0a92"/><rect x="967.0" y="113.7" width="7.0" height="7.0" fill="#0a0a92"/><rect x="949.7" y="106.5" width="7.0" height="7.0" fill="#0a0a92"/><rect x="930.7" y="100.6" width="7.0" height="7.0" fill="#0a0a92"/><rect x="910.4" y="96.3" width="7.0" height="7.0" fill="#0a0a92"/><rect x="734.2" y="140.4" width="7.0" height="7.0" fill="#0a0a92"/><rect x="723.9" y="145.5" width="7.0" height="7.0" fill="#0a0a92"/><rect x="714.7" y="150.4" width="7.0" height="7.0" fill="#0a0a92"/><rect x="706.3" y="155.1" width="7.0" height="7.0" fill="#0a0a92"/><rect x="698.8" y="159.6" width="7.0" height="7.0" fill="#0a0a92"/><rect x="692.0" y="163.8" width="7.0" height="7.0" fill="#0a0a92"/><rect x="685.9" y="167.8" width="7.0" height="7.0" fill="#0a0a92"/><rect x="680.3" y="171.6" width="7.0" height="7.0" fill="#0a0a92"/><rect x="675.3" y="175.0" width="7.0" height="7.0" fill="#0a0a92"/><rect x="670.7" y="178.2" width="7.0" height="7.0" fill="#0a0a92"/><rect x="666.6" y="181.1" width="7.0" height="7.0" fill="#0a0a92"/><rect x="662.8" y="183.7" width="7.0" height="7.0" fill="#0a0a92"/><rect x="659.2" y="186.1" width="7.0" height="7.0" fill="#0a0a92"/><rect x="655.7" y="188.3" width="7.0" height="7.0" fill="#0a0a92"/><rect x="652.1" y="190.5" width="7.0" height="7.0" fill="#0a0a92"/><rect x="648.5" y="192.8" width="7.0" height="7.0" fill="#0a0a92"/><rect x="644.7" y="195.5" width="7.0" height="7.0" fill="#0a0a92"/><rect x="640.8" y="198.8" width="7.0" height="7.0" fill="#0a0a92"/><rect x="637.0" y="203.1" width="7.0" height="7.0" fill="#0a0a92"/><rect x="633.4" y="208.4" width="7.0" height="7.0" fill="#0a0a92"/><rect x="750.5" y="129.0" width="7.0" height="7.0" fill="#0a0a92"/><rect x="764.4" y="121.7" width="7.0" height="7.0" fill="#0a0a92"/><rect x="780.9" y="117.2" width="7.0" height="7.0" fill="#0a0a92"/><rect x="792.7" y="111.2" width="7.0" height="7.0" fill="#0a0a92"/><rect x="809.9" y="107.4" width="7.0" height="7.0" fill="#0a0a92"/><rect x="820.2" y="112.1" width="7.0" height="7.0" fill="#0a0a92"/><rect x="848.0" y="98.8" width="7.0" height="7.0" fill="#0a0a92"/><rect x="868.2" y="95.0" width="7.0" height="7.0" fill="#0a0a92"/><rect x="888.3" y="94.1" width="7.0" height="7.0" fill="#0a0a92"/><circle cx="1195.4" cy="191.8" r="3.80" fill="#d24e16"/><circle cx="1189.8" cy="185.9" r="3.80" fill="#d24e16"/><circle cx="1183.4" cy="180.6" r="3.80" fill="#d24e16"/><circle cx="1176.8" cy="174.7" r="3.80" fill="#d24e16"/><circle cx="1170.1" cy="167.8" r="3.80" fill="#d24e16"/><circle cx="1162.9" cy="160.1" r="3.80" fill="#d24e16"/><circle cx="1154.3" cy="151.3" r="3.80" fill="#d24e16"/><circle cx="1143.9" cy="142.4" r="3.80" fill="#d24e16"/><circle cx="1132.4" cy="131.1" r="3.80" fill="#d24e16"/><circle cx="1119.0" cy="119.9" r="3.80" fill="#d24e16"/><circle cx="1102.4" cy="108.0" r="3.80" fill="#d24e16"/><circle cx="1083.5" cy="94.8" r="3.80" fill="#d24e16"/><circle cx="1061.2" cy="82.6" r="3.80" fill="#d24e16"/><circle cx="1037.2" cy="73.0" r="3.80" fill="#d24e16"/><circle cx="1007.9" cy="65.0" r="3.80" fill="#d24e16"/><circle cx="978.6" cy="60.2" r="3.80" fill="#d24e16"/><circle cx="947.8" cy="60.2" r="3.80" fill="#d24e16"/><circle cx="918.5" cy="64.0" r="3.80" fill="#d24e16"/><circle cx="893.2" cy="69.8" r="3.80" fill="#d24e16"/><circle cx="869.8" cy="77.3" r="3.80" fill="#d24e16"/><circle cx="738.0" cy="145.6" r="3.80" fill="#d24e16"/><circle cx="728.5" cy="150.2" r="3.80" fill="#d24e16"/><circle cx="719.7" cy="154.6" r="3.80" fill="#d24e16"/><circle cx="711.4" cy="158.8" r="3.80" fill="#d24e16"/><circle cx="703.6" cy="162.7" r="3.80" fill="#d24e16"/><circle cx="696.4" cy="166.6" r="3.80" fill="#d24e16"/><circle cx="689.7" cy="170.3" r="3.80" fill="#d24e16"/><circle cx="683.5" cy="173.9" r="3.80" fill="#d24e16"/><circle cx="677.7" cy="177.4" r="3.80" fill="#d24e16"/><circle cx="672.5" cy="180.9" r="3.80" fill="#d24e16"/><circle cx="667.8" cy="184.2" r="3.80" fill="#d24e16"/><circle cx="663.5" cy="187.5" r="3.80" fill="#d24e16"/><circle cx="659.6" cy="190.7" r="3.80" fill="#d24e16"/><circle cx="656.1" cy="193.9" r="3.80" fill="#d24e16"/><circle cx="652.9" cy="197.0" r="3.80" fill="#d24e16"/><circle cx="650.1" cy="200.3" r="3.80" fill="#d24e16"/><circle cx="647.6" cy="203.6" r="3.80" fill="#d24e16"/><circle cx="645.3" cy="207.0" r="3.80" fill="#d24e16"/><circle cx="643.3" cy="210.8" r="3.80" fill="#d24e16"/><circle cx="641.5" cy="214.9" r="3.80" fill="#d24e16"/><circle cx="638.0" cy="216.0" r="3.80" fill="#d24e16"/><circle cx="639.6" cy="213.0" r="3.80" fill="#d24e16"/><circle cx="754.2" cy="133.1" r="3.80" fill="#d24e16"/><circle cx="766.6" cy="127.4" r="3.80" fill="#d24e16"/><circle cx="779.9" cy="118.1" r="3.80" fill="#d24e16"/><circle cx="795.0" cy="109.3" r="3.80" fill="#d24e16"/><circle cx="810.0" cy="103.1" r="3.80" fill="#d24e16"/><circle cx="828.0" cy="94.5" r="3.80" fill="#d24e16"/><circle cx="851.2" cy="91.9" r="3.80" fill="#d24e16"/></g>
<g stroke="#141414" stroke-width="0.4"><text transform="translate(92.00 223.80) scale(1.05 1)" font-size="20" text-anchor="end" fill="#141414" style="font-family:Liberation Sans, sans-serif">0.00</text><text transform="translate(92.00 171.90) scale(1.05 1)" font-size="20" text-anchor="end" fill="#141414" style="font-family:Liberation Sans, sans-serif">0.05</text><text transform="translate(92.00 120.00) scale(1.05 1)" font-size="20" text-anchor="end" fill="#141414" style="font-family:Liberation Sans, sans-serif">0.10</text><text transform="translate(92.00 68.10) scale(1.05 1)" font-size="20" text-anchor="end" fill="#141414" style="font-family:Liberation Sans, sans-serif">0.15</text><text transform="translate(92.00 16.20) scale(1.05 1)" font-size="20" text-anchor="end" fill="#141414" style="font-family:Liberation Sans, sans-serif">0.20</text><text transform="translate(119.3 254.0) scale(1.07 1)" font-size="18.8" text-anchor="middle" fill="#141414" style="font-family:Liberation Sans, sans-serif">10<tspan font-size="12.5" dy="-14" stroke-width="0">-1</tspan></text><text transform="translate(179.3 254.0) scale(1.07 1)" font-size="18.8" text-anchor="middle" fill="#141414" style="font-family:Liberation Sans, sans-serif">10<tspan font-size="12.5" dy="-14" stroke-width="0">0</tspan></text><text transform="translate(239.3 254.0) scale(1.07 1)" font-size="18.8" text-anchor="middle" fill="#141414" style="font-family:Liberation Sans, sans-serif">10<tspan font-size="12.5" dy="-14" stroke-width="0">1</tspan></text><text transform="translate(299.4 254.0) scale(1.07 1)" font-size="18.8" text-anchor="middle" fill="#141414" style="font-family:Liberation Sans, sans-serif">10<tspan font-size="12.5" dy="-14" stroke-width="0">2</tspan></text><text transform="translate(359.4 254.0) scale(1.07 1)" font-size="18.8" text-anchor="middle" fill="#141414" style="font-family:Liberation Sans, sans-serif">10<tspan font-size="12.5" dy="-14" stroke-width="0">3</tspan></text><text transform="translate(419.4 254.0) scale(1.07 1)" font-size="18.8" text-anchor="middle" fill="#141414" style="font-family:Liberation Sans, sans-serif">10<tspan font-size="12.5" dy="-14" stroke-width="0">4</tspan></text><text transform="translate(479.4 254.0) scale(1.07 1)" font-size="18.8" text-anchor="middle" fill="#141414" style="font-family:Liberation Sans, sans-serif">10<tspan font-size="12.5" dy="-14" stroke-width="0">5</tspan></text><text transform="translate(195.00 288.80) scale(1.172 1)" font-size="23.6" text-anchor="start" fill="#141414" style="font-family:Liberation Sans, sans-serif">Frequency (Hz)</text><text stroke-width="0" transform="translate(276.20 330.60) scale(1.0 1)" font-size="29" text-anchor="middle" fill="#141414" style="font-family:Liberation Sans, sans-serif">(a)</text><text transform="translate(322.30 49.00) scale(1.16 1)" font-size="17.5" text-anchor="start" fill="#141414" style="font-family:Liberation Sans, sans-serif">800ºC</text><text transform="translate(322.30 70.30) scale(1.17 1)" font-size="17.5" text-anchor="start" fill="#141414" style="font-family:Liberation Sans, sans-serif">Single-step 4h</text><text transform="translate(33.20 192.50) rotate(-90) scale(1.0 1)" font-size="25.5" text-anchor="start" fill="#141414" style="font-family:Liberation Sans, sans-serif">-Z</text><text transform="translate(40.20 168.80) rotate(-90) scale(1.12 1)" font-size="17" text-anchor="start" fill="#141414" style="font-family:Liberation Sans, sans-serif">Imag</text><text stroke-width="0.35" transform="translate(33.50 122.50) rotate(-90) scale(1.09 1)" font-size="25.5" text-anchor="start" fill="#141414" style="font-family:Liberation Serif, serif">(Ω·cm</text><text stroke-width="0.35" transform="translate(15.00 48.00) rotate(-90) scale(1.0 1)" font-size="16" text-anchor="start" fill="#141414" style="font-family:Liberation Serif, serif">2</text><text stroke-width="0.35" transform="translate(31.50 38.00) rotate(-90) scale(1.0 1)" font-size="20" text-anchor="start" fill="#141414" style="font-family:Liberation Serif, serif">)</text><text transform="translate(539.30 245.00) scale(1.15 1)" font-size="18.8" text-anchor="middle" fill="#141414" style="font-family:Liberation Sans, sans-serif">0.0</text><text transform="translate(643.00 245.00) scale(1.15 1)" font-size="18.8" text-anchor="middle" fill="#141414" style="font-family:Liberation Sans, sans-serif">0.1</text><text transform="translate(746.70 245.00) scale(1.15 1)" font-size="18.8" text-anchor="middle" fill="#141414" style="font-family:Liberation Sans, sans-serif">0.2</text><text transform="translate(850.40 245.00) scale(1.15 1)" font-size="18.8" text-anchor="middle" fill="#141414" style="font-family:Liberation Sans, sans-serif">0.3</text><text transform="translate(954.10 245.00) scale(1.15 1)" font-size="18.8" text-anchor="middle" fill="#141414" style="font-family:Liberation Sans, sans-serif">0.4</text><text transform="translate(1057.80 245.00) scale(1.15 1)" font-size="18.8" text-anchor="middle" fill="#141414" style="font-family:Liberation Sans, sans-serif">0.5</text><text transform="translate(1161.50 245.00) scale(1.15 1)" font-size="18.8" text-anchor="middle" fill="#141414" style="font-family:Liberation Sans, sans-serif">0.6</text><text transform="translate(1265.20 245.00) scale(1.15 1)" font-size="18.8" text-anchor="middle" fill="#141414" style="font-family:Liberation Sans, sans-serif">0.7</text><text transform="translate(825.30 284.00) scale(1.0 1)" font-size="25.5" text-anchor="start" fill="#141414" style="font-family:Liberation Sans, sans-serif">Z</text><text transform="translate(842.80 290.70) scale(1.09 1)" font-size="17.5" text-anchor="start" fill="#141414" style="font-family:Liberation Sans, sans-serif">Real</text><text stroke-width="0.35" transform="translate(887.30 284.30) scale(1.12 1)" font-size="25" text-anchor="start" fill="#141414" style="font-family:Liberation Serif, serif">(Ω·cm</text><text stroke-width="0.35" transform="translate(962.80 267.00) scale(1.0 1)" font-size="16" text-anchor="start" fill="#141414" style="font-family:Liberation Serif, serif">2</text><text stroke-width="0.35" transform="translate(972.00 286.00) scale(1.0 1)" font-size="17" text-anchor="start" fill="#141414" style="font-family:Liberation Serif, serif">)</text><text stroke-width="0" transform="translate(886.00 329.60) scale(1.0 1)" font-size="29" text-anchor="middle" fill="#141414" style="font-family:Liberation Sans, sans-serif">(b)</text><text transform="translate(592 35.3) scale(1.13 1)" font-size="18" fill="#141414" font-family="Liberation Sans, sans-serif">100O<tspan font-size="12.5" dy="5">2</tspan><tspan dy="-5"></tspan></text><text transform="translate(592 61.8) scale(1.13 1)" font-size="18" fill="#141414" font-family="Liberation Sans, sans-serif">80O<tspan font-size="12.5" dy="5">2</tspan><tspan dy="-5"> - 20Ar</tspan></text><text transform="translate(592 89.0) scale(1.13 1)" font-size="18" fill="#141414" font-family="Liberation Sans, sans-serif">60O<tspan font-size="12.5" dy="5">2</tspan><tspan dy="-5"> - 40Ar</tspan></text><text transform="translate(592 115.6) scale(1.13 1)" font-size="18" fill="#141414" font-family="Liberation Sans, sans-serif">40O<tspan font-size="12.5" dy="5">2</tspan><tspan dy="-5"> - 60Ar</tspan></text><text transform="translate(592 142.1) scale(1.13 1)" font-size="18" fill="#141414" font-family="Liberation Sans, sans-serif">20O<tspan font-size="12.5" dy="5">2</tspan><tspan dy="-5"> - 80Ar</tspan></text></g>
<path d="M563.2 20.6L572 29.3L563.2 38L554.4 29.3Z" fill="#000"/><path d="M556.3 51.6L570.9 51.6L563.6 63Z" fill="#8e0c0c"/><path d="M563.4 75.2L570.9 87L555.9 87Z" fill="#0e6e12"/><rect x="557.2" y="103.5" width="12" height="12" fill="#0a0a92"/><circle cx="563.3" cy="135.9" r="6.3" fill="#d24e16"/>
</g></g><g opacity="0.5" filter="url(#idf)"><rect width="1280" height="338" fill="#fff"/>
<g>
<g stroke="#1e1e1e" stroke-width="2.95" fill="none" stroke-linecap="butt"><path d="M100.7 9.2H479.2"/><path d="M100.7 7.9V217.8"/><path d="M99.3 216.4H480.6"/><path d="M100.7 164.1H115.5"/><path d="M100.7 112.2H115.5"/><path d="M100.7 60.3H115.5"/><path d="M118.8 201V216.4"/><path d="M178.8 201V216.4"/><path d="M238.9 201V216.4"/><path d="M298.9 201V216.4"/><path d="M358.9 201V216.4"/><path d="M418.9 201V216.4"/><path d="M479.0 201V216.4"/><path d="M538 9.2H1265.2"/><path d="M1265.2 7.9V217.8"/><path d="M537.6 216.4H1266.8"/><path d="M1249 164.1H1265.3"/><path d="M1249 112.2H1265.3"/><path d="M1249 60.3H1265.3"/><path d="M539.0 201.5V216.4"/><path d="M549.4 208.6V216.4"/><path d="M559.7 208.6V216.4"/><path d="M570.1 208.6V216.4"/><path d="M580.5 208.6V216.4"/><path d="M590.9 205.2V216.4"/><path d="M601.2 208.6V216.4"/><path d="M611.6 208.6V216.4"/><path d="M622.0 208.6V216.4"/><path d="M632.3 208.6V216.4"/><path d="M642.7 201.5V216.4"/><path d="M653.1 208.6V216.4"/><path d="M663.4 208.6V216.4"/><path d="M673.8 208.6V216.4"/><path d="M684.2 208.6V216.4"/><path d="M694.5 205.2V216.4"/><path d="M704.9 208.6V216.4"/><path d="M715.3 208.6V216.4"/><path d="M725.7 208.6V216.4"/><path d="M736.0 208.6V216.4"/><path d="M746.4 201.5V216.4"/><path d="M756.8 208.6V216.4"/><path d="M767.1 208.6V216.4"/><path d="M777.5 208.6V216.4"/><path d="M787.9 208.6V216.4"/><path d="M798.2 205.2V216.4"/><path d="M808.6 208.6V216.4"/><path d="M819.0 208.6V216.4"/><path d="M829.4 208.6V216.4"/><path d="M839.7 208.6V216.4"/><path d="M850.1 201.5V216.4"/><path d="M860.5 208.6V216.4"/><path d="M870.8 208.6V216.4"/><path d="M881.2 208.6V216.4"/><path d="M891.6 208.6V216.4"/><path d="M902.0 205.2V216.4"/><path d="M912.3 208.6V216.4"/><path d="M922.7 208.6V216.4"/><path d="M933.1 208.6V216.4"/><path d="M943.4 208.6V216.4"/><path d="M953.8 201.5V216.4"/><path d="M964.2 208.6V216.4"/><path d="M974.5 208.6V216.4"/><path d="M984.9 208.6V216.4"/><path d="M995.3 208.6V216.4"/><path d="M1005.6 205.2V216.4"/><path d="M1016.0 208.6V216.4"/><path d="M1026.4 208.6V216.4"/><path d="M1036.8 208.6V216.4"/><path d="M1047.1 208.6V216.4"/><path d="M1057.5 201.5V216.4"/><path d="M1067.9 208.6V216.4"/><path d="M1078.2 208.6V216.4"/><path d="M1088.6 208.6V216.4"/><path d="M1099.0 208.6V216.4"/><path d="M1109.3 205.2V216.4"/><path d="M1119.7 208.6V216.4"/><path d="M1130.1 208.6V216.4"/><path d="M1140.5 208.6V216.4"/><path d="M1150.8 208.6V216.4"/><path d="M1161.2 201.5V216.4"/><path d="M1171.6 208.6V216.4"/><path d="M1181.9 208.6V216.4"/><path d="M1192.3 208.6V216.4"/><path d="M1202.7 208.6V216.4"/><path d="M1213.0 205.2V216.4"/><path d="M1223.4 208.6V216.4"/><path d="M1233.8 208.6V216.4"/><path d="M1244.2 208.6V216.4"/><path d="M1254.5 208.6V216.4"/><path d="M1264.9 201.5V216.4"/></g>
<g><path d="M118.8 202.5L123.4 207.1L118.8 211.7L114.2 207.1Z" fill="#000000"/><path d="M124.8 200.9L129.4 205.5L124.8 210.1L120.2 205.5Z" fill="#000000"/><path d="M130.8 199.1L135.4 203.7L130.8 208.3L126.2 203.7Z" fill="#000000"/><path d="M136.8 197.0L141.4 201.6L136.8 206.2L132.2 201.6Z" fill="#000000"/><path d="M142.8 194.6L147.4 199.2L142.8 203.8L138.2 199.2Z" fill="#000000"/><path d="M148.8 191.8L153.4 196.4L148.8 201.0L144.2 196.4Z" fill="#000000"/><path d="M154.8 188.6L159.4 193.2L154.8 197.8L150.2 193.2Z" fill="#000000"/><path d="M160.8 185.0L165.4 189.6L160.8 194.2L156.2 189.6Z" fill="#000000"/><path d="M166.8 180.9L171.4 185.5L166.8 190.1L162.2 185.5Z" fill="#000000"/><path d="M172.8 176.3L177.4 180.9L172.8 185.5L168.2 180.9Z" fill="#000000"/><path d="M178.8 171.4L183.4 176.0L178.8 180.6L174.2 176.0Z" fill="#000000"/><path d="M184.8 166.0L189.4 170.6L184.8 175.2L180.2 170.6Z" fill="#000000"/><path d="M190.8 160.5L195.4 165.1L190.8 169.7L186.2 165.1Z" fill="#000000"/><path d="M196.8 154.8L201.4 159.4L196.8 164.0L192.2 159.4Z" fill="#000000"/><path d="M202.8 149.3L207.4 153.9L202.8 158.5L198.2 153.9Z" fill="#000000"/><path d="M208.8 144.2L213.4 148.8L208.8 153.4L204.2 148.8Z" fill="#000000"/><path d="M214.8 139.8L219.4 144.4L214.8 149.0L210.2 144.4Z" fill="#000000"/><path d="M220.8 136.4L225.4 141.0L220.8 145.6L216.2 141.0Z" fill="#000000"/><path d="M226.8 134.2L231.4 138.8L226.8 143.4L222.2 138.8Z" fill="#000000"/><path d="M232.8 133.2L237.4 137.8L232.8 142.4L228.2 137.8Z" fill="#000000"/><path d="M238.8 133.4L243.4 138.0L238.8 142.6L234.2 138.0Z" fill="#000000"/><path d="M241.8 139.0L246.4 143.6L241.8 148.2L237.2 143.6Z" fill="#000000"/><path d="M247.8 139.6L252.4 144.2L247.8 148.8L243.2 144.2Z" fill="#000000"/><path d="M253.8 141.4L258.4 146.0L253.8 150.6L249.2 146.0Z" fill="#000000"/><path d="M259.8 143.9L264.4 148.5L259.8 153.1L255.2 148.5Z" fill="#000000"/><path d="M265.8 146.9L270.4 151.5L265.8 156.1L261.2 151.5Z" fill="#000000"/><path d="M271.8 150.3L276.4 154.9L271.8 159.5L267.2 154.9Z" fill="#000000"/><path d="M277.8 153.9L282.4 158.5L277.8 163.1L273.2 158.5Z" fill="#000000"/><path d="M283.9 157.5L288.5 162.1L283.9 166.7L279.3 162.1Z" fill="#000000"/><path d="M289.9 161.2L294.5 165.8L289.9 170.4L285.3 165.8Z" fill="#000000"/><path d="M295.9 164.9L300.5 169.5L295.9 174.1L291.3 169.5Z" fill="#000000"/><path d="M301.9 168.5L306.5 173.1L301.9 177.7L297.3 173.1Z" fill="#000000"/><path d="M307.9 172.0L312.5 176.6L307.9 181.2L303.3 176.6Z" fill="#000000"/><path d="M313.9 175.5L318.5 180.1L313.9 184.7L309.3 180.1Z" fill="#000000"/><path d="M319.9 178.8L324.5 183.4L319.9 188.0L315.3 183.4Z" fill="#000000"/><path d="M325.9 182.0L330.5 186.6L325.9 191.2L321.3 186.6Z" fill="#000000"/><path d="M331.9 185.0L336.5 189.6L331.9 194.2L327.3 189.6Z" fill="#000000"/><path d="M337.9 187.9L342.5 192.5L337.9 197.1L333.3 192.5Z" fill="#000000"/><path d="M343.9 190.6L348.5 195.2L343.9 199.8L339.3 195.2Z" fill="#000000"/><path d="M349.9 193.2L354.5 197.8L349.9 202.4L345.3 197.8Z" fill="#000000"/><path d="M355.9 195.6L360.5 200.2L355.9 204.8L351.3 200.2Z" fill="#000000"/><path d="M361.9 197.9L366.5 202.5L361.9 207.1L357.3 202.5Z" fill="#000000"/><path d="M367.9 200.0L372.5 204.6L367.9 209.2L363.3 204.6Z" fill="#000000"/><path d="M373.9 202.1L378.5 206.7L373.9 211.3L369.3 206.7Z" fill="#000000"/><path d="M379.9 204.1L384.5 208.7L379.9 213.3L375.3 208.7Z" fill="#000000"/><path d="M385.9 206.2L390.5 210.8L385.9 215.4L381.3 210.8Z" fill="#000000"/><path d="M391.9 208.3L396.5 212.9L391.9 217.5L387.3 212.9Z" fill="#000000"/><path d="M397.9 210.5L402.5 215.1L397.9 219.7L393.3 215.1Z" fill="#000000"/><path d="M238.2 102.4L242.8 107.0L238.2 111.6L233.6 107.0Z" fill="#000000"/><path d="M118.8 208.4L122.8 201.4L114.8 201.4Z" fill="#8e0c0c"/><path d="M124.8 206.5L128.8 199.5L120.8 199.5Z" fill="#8e0c0c"/><path d="M130.8 204.3L134.8 197.3L126.8 197.3Z" fill="#8e0c0c"/><path d="M136.8 201.8L140.8 194.8L132.8 194.8Z" fill="#8e0c0c"/><path d="M142.8 198.9L146.8 191.9L138.8 191.9Z" fill="#8e0c0c"/><path d="M148.8 195.7L152.8 188.7L144.8 188.7Z" fill="#8e0c0c"/><path d="M154.8 192.0L158.8 185.0L150.8 185.0Z" fill="#8e0c0c"/><path d="M160.8 187.8L164.8 180.8L156.8 180.8Z" fill="#8e0c0c"/><path d="M166.8 183.2L170.8 176.2L162.8 176.2Z" fill="#8e0c0c"/><path d="M172.8 178.1L176.8 171.1L168.8 171.1Z" fill="#8e0c0c"/><path d="M178.8 172.6L182.8 165.6L174.8 165.6Z" fill="#8e0c0c"/><path d="M184.8 166.8L188.8 159.8L180.8 159.8Z" fill="#8e0c0c"/><path d="M190.8 160.8L194.8 153.8L186.8 153.8Z" fill="#8e0c0c"/><path d="M196.8 154.8L200.8 147.8L192.8 147.8Z" fill="#8e0c0c"/><path d="M202.8 149.0L206.8 142.0L198.8 142.0Z" fill="#8e0c0c"/><path d="M208.8 143.8L212.8 136.8L204.8 136.8Z" fill="#8e0c0c"/><path d="M214.8 139.4L218.8 132.4L210.8 132.4Z" fill="#8e0c0c"/><path d="M220.8 136.0L224.8 129.0L216.8 129.0Z" fill="#8e0c0c"/><path d="M226.8 134.0L230.8 127.0L222.8 127.0Z" fill="#8e0c0c"/><path d="M232.8 133.3L236.8 126.3L228.8 126.3Z" fill="#8e0c0c"/><path d="M238.8 134.0L242.8 127.0L234.8 127.0Z" fill="#8e0c0c"/><path d="M241.8 140.8L245.8 133.8L237.8 133.8Z" fill="#8e0c0c"/><path d="M247.8 141.8L251.8 134.8L243.8 134.8Z" fill="#8e0c0c"/><path d="M253.8 144.0L257.8 137.0L249.8 137.0Z" fill="#8e0c0c"/><path d="M259.8 147.2L263.8 140.2L255.8 140.2Z" fill="#8e0c0c"/><path d="M265.8 150.9L269.8 143.9L261.8 143.9Z" fill="#8e0c0c"/><path d="M271.8 155.0L275.8 148.0L267.8 148.0Z" fill="#8e0c0c"/><path d="M277.8 159.3L281.8 152.3L273.8 152.3Z" fill="#8e0c0c"/><path d="M283.9 163.5L287.9 156.5L279.9 156.5Z" fill="#8e0c0c"/><path d="M289.9 167.7L293.9 160.7L285.9 160.7Z" fill="#8e0c0c"/><path d="M295.9 171.7L299.9 164.7L291.9 164.7Z" fill="#8e0c0c"/><path d="M301.9 175.6L305.9 168.6L297.9 168.6Z" fill="#8e0c0c"/><path d="M307.9 179.3L311.9 172.3L303.9 172.3Z" fill="#8e0c0c"/><path d="M313.9 182.8L317.9 175.8L309.9 175.8Z" fill="#8e0c0c"/><path d="M319.9 186.1L323.9 179.1L315.9 179.1Z" fill="#8e0c0c"/><path d="M325.9 189.2L329.9 182.2L321.9 182.2Z" fill="#8e0c0c"/><path d="M331.9 192.2L335.9 185.2L327.9 185.2Z" fill="#8e0c0c"/><path d="M337.9 195.0L341.9 188.0L333.9 188.0Z" fill="#8e0c0c"/><path d="M343.9 197.7L347.9 190.7L339.9 190.7Z" fill="#8e0c0c"/><path d="M349.9 200.2L353.9 193.2L345.9 193.2Z" fill="#8e0c0c"/><path d="M355.9 202.6L359.9 195.6L351.9 195.6Z" fill="#8e0c0c"/><path d="M361.9 204.9L365.9 197.9L357.9 197.9Z" fill="#8e0c0c"/><path d="M367.9 207.2L371.9 200.2L363.9 200.2Z" fill="#8e0c0c"/><path d="M373.9 209.4L377.9 202.4L369.9 202.4Z" fill="#8e0c0c"/><path d="M379.9 211.6L383.9 204.6L375.9 204.6Z" fill="#8e0c0c"/><path d="M385.9 213.8L389.9 206.8L381.9 206.8Z" fill="#8e0c0c"/><path d="M391.9 216.2L395.9 209.2L387.9 209.2Z" fill="#8e0c0c"/><path d="M397.9 218.8L401.9 211.8L393.9 211.8Z" fill="#8e0c0c"/><path d="M118.8 195.3L122.8 202.3L114.8 202.3Z" fill="#0e6e12"/><path d="M124.8 193.2L128.8 200.2L120.8 200.2Z" fill="#0e6e12"/><path d="M130.8 190.8L134.8 197.8L126.8 197.8Z" fill="#0e6e12"/><path d="M136.8 188.2L140.8 195.2L132.8 195.2Z" fill="#0e6e12"/><path d="M142.8 185.2L146.8 192.2L138.8 192.2Z" fill="#0e6e12"/><path d="M148.8 181.8L152.8 188.8L144.8 188.8Z" fill="#0e6e12"/><path d="M154.8 177.9L158.8 184.9L150.8 184.9Z" fill="#0e6e12"/><path d="M160.8 173.7L164.8 180.7L156.8 180.7Z" fill="#0e6e12"/><path d="M166.8 168.9L170.8 175.9L162.8 175.9Z" fill="#0e6e12"/><path d="M172.8 163.5L176.8 170.5L168.8 170.5Z" fill="#0e6e12"/><path d="M178.8 157.6L182.8 164.6L174.8 164.6Z" fill="#0e6e12"/><path d="M184.8 151.1L188.8 158.1L180.8 158.1Z" fill="#0e6e12"/><path d="M190.8 144.2L194.8 151.2L186.8 151.2Z" fill="#0e6e12"/><path d="M196.8 137.0L200.8 144.0L192.8 144.0Z" fill="#0e6e12"/><path d="M202.8 129.8L206.8 136.8L198.8 136.8Z" fill="#0e6e12"/><path d="M208.8 123.0L212.8 130.0L204.8 130.0Z" fill="#0e6e12"/><path d="M214.8 117.1L218.8 124.1L210.8 124.1Z" fill="#0e6e12"/><path d="M220.8 112.7L224.8 119.7L216.8 119.7Z" fill="#0e6e12"/><path d="M226.8 110.3L230.8 117.3L222.8 117.3Z" fill="#0e6e12"/><path d="M232.8 110.0L236.8 117.0L228.8 117.0Z" fill="#0e6e12"/><path d="M238.8 111.9L242.8 118.9L234.8 118.9Z" fill="#0e6e12"/><path d="M241.8 121.5L245.8 128.5L237.8 128.5Z" fill="#0e6e12"/><path d="M247.8 123.7L251.8 130.7L243.8 130.7Z" fill="#0e6e12"/><path d="M253.8 127.5L257.8 134.5L249.8 134.5Z" fill="#0e6e12"/><path d="M259.8 132.1L263.8 139.1L255.8 139.1Z" fill="#0e6e12"/><path d="M265.8 137.1L269.8 144.1L261.8 144.1Z" fill="#0e6e12"/><path d="M271.8 142.3L275.8 149.3L267.8 149.3Z" fill="#0e6e12"/><path d="M277.8 147.5L281.8 154.5L273.8 154.5Z" fill="#0e6e12"/><path d="M283.9 152.4L287.9 159.4L279.9 159.4Z" fill="#0e6e12"/><path d="M289.9 157.1L293.9 164.1L285.9 164.1Z" fill="#0e6e12"/><path d="M295.9 161.6L299.9 168.6L291.9 168.6Z" fill="#0e6e12"/><path d="M301.9 165.8L305.9 172.8L297.9 172.8Z" fill="#0e6e12"/><path d="M307.9 169.8L311.9 176.8L303.9 176.8Z" fill="#0e6e12"/><path d="M313.9 173.5L317.9 180.5L309.9 180.5Z" fill="#0e6e12"/><path d="M319.9 177.0L323.9 184.0L315.9 184.0Z" fill="#0e6e12"/><path d="M325.9 180.3L329.9 187.3L321.9 187.3Z" fill="#0e6e12"/><path d="M331.9 183.3L335.9 190.3L327.9 190.3Z" fill="#0e6e12"/><path d="M337.9 186.2L341.9 193.2L333.9 193.2Z" fill="#0e6e12"/><path d="M343.9 188.9L347.9 195.9L339.9 195.9Z" fill="#0e6e12"/><path d="M349.9 191.5L353.9 198.5L345.9 198.5Z" fill="#0e6e12"/><path d="M355.9 194.0L359.9 201.0L351.9 201.0Z" fill="#0e6e12"/><path d="M361.9 196.3L365.9 203.3L357.9 203.3Z" fill="#0e6e12"/><path d="M367.9 198.6L371.9 205.6L363.9 205.6Z" fill="#0e6e12"/><path d="M373.9 200.9L377.9 207.9L369.9 207.9Z" fill="#0e6e12"/><path d="M379.9 203.2L383.9 210.2L375.9 210.2Z" fill="#0e6e12"/><path d="M385.9 205.7L389.9 212.7L381.9 212.7Z" fill="#0e6e12"/><path d="M391.9 208.2L395.9 215.2L387.9 215.2Z" fill="#0e6e12"/><path d="M397.9 211.1L401.9 218.1L393.9 218.1Z" fill="#0e6e12"/><rect x="115.3" y="192.3" width="7.0" height="7.0" fill="#0a0a92"/><rect x="121.3" y="189.5" width="7.0" height="7.0" fill="#0a0a92"/><rect x="127.3" y="186.3" width="7.0" height="7.0" fill="#0a0a92"/><rect x="133.3" y="182.6" width="7.0" height="7.0" fill="#0a0a92"/><rect x="139.3" y="178.3" width="7.0" height="7.0" fill="#0a0a92"/><rect x="145.3" y="173.5" width="7.0" height="7.0" fill="#0a0a92"/><rect x="151.3" y="168.1" width="7.0" height="7.0" fill="#0a0a92"/><rect x="157.3" y="162.0" width="7.0" height="7.0" fill="#0a0a92"/><rect x="163.3" y="155.3" width="7.0" height="7.0" fill="#0a0a92"/><rect x="169.3" y="147.8" width="7.0" height="7.0" fill="#0a0a92"/><rect x="175.3" y="139.8" width="7.0" height="7.0" fill="#0a0a92"/><rect x="181.3" y="131.4" width="7.0" height="7.0" fill="#0a0a92"/><rect x="187.3" y="122.9" width="7.0" height="7.0" fill="#0a0a92"/><rect x="193.3" y="114.5" width="7.0" height="7.0" fill="#0a0a92"/><rect x="199.3" y="106.9" width="7.0" height="7.0" fill="#0a0a92"/><rect x="205.3" y="100.4" width="7.0" height="7.0" fill="#0a0a92"/><rect x="211.3" y="95.7" width="7.0" height="7.0" fill="#0a0a92"/><rect x="217.3" y="93.0" width="7.0" height="7.0" fill="#0a0a92"/><rect x="223.3" y="92.7" width="7.0" height="7.0" fill="#0a0a92"/><rect x="229.3" y="94.6" width="7.0" height="7.0" fill="#0a0a92"/><rect x="235.3" y="98.4" width="7.0" height="7.0" fill="#0a0a92"/><rect x="238.3" y="109.9" width="7.0" height="7.0" fill="#0a0a92"/><rect x="244.3" y="113.6" width="7.0" height="7.0" fill="#0a0a92"/><rect x="250.3" y="118.7" width="7.0" height="7.0" fill="#0a0a92"/><rect x="256.3" y="124.5" width="7.0" height="7.0" fill="#0a0a92"/><rect x="262.3" y="130.6" width="7.0" height="7.0" fill="#0a0a92"/><rect x="268.3" y="136.8" width="7.0" height="7.0" fill="#0a0a92"/><rect x="274.3" y="142.8" width="7.0" height="7.0" fill="#0a0a92"/><rect x="280.4" y="148.4" width="7.0" height="7.0" fill="#0a0a92"/><rect x="286.4" y="153.7" width="7.0" height="7.0" fill="#0a0a92"/><rect x="292.4" y="158.5" width="7.0" height="7.0" fill="#0a0a92"/><rect x="298.4" y="163.0" width="7.0" height="7.0" fill="#0a0a92"/><rect x="304.4" y="167.2" width="7.0" height="7.0" fill="#0a0a92"/><rect x="310.4" y="171.0" width="7.0" height="7.0" fill="#0a0a92"/><rect x="316.4" y="174.5" width="7.0" height="7.0" fill="#0a0a92"/><rect x="322.4" y="177.8" width="7.0" height="7.0" fill="#0a0a92"/><rect x="328.4" y="180.9" width="7.0" height="7.0" fill="#0a0a92"/><rect x="334.4" y="183.7" width="7.0" height="7.0" fill="#0a0a92"/><rect x="340.4" y="186.5" width="7.0" height="7.0" fill="#0a0a92"/><rect x="346.4" y="189.1" width="7.0" height="7.0" fill="#0a0a92"/><rect x="352.4" y="191.6" width="7.0" height="7.0" fill="#0a0a92"/><rect x="358.4" y="194.1" width="7.0" height="7.0" fill="#0a0a92"/><rect x="364.4" y="196.6" width="7.0" height="7.0" fill="#0a0a92"/><rect x="370.4" y="199.1" width="7.0" height="7.0" fill="#0a0a92"/><rect x="376.4" y="201.8" width="7.0" height="7.0" fill="#0a0a92"/><rect x="382.4" y="204.6" width="7.0" height="7.0" fill="#0a0a92"/><rect x="388.4" y="207.7" width="7.0" height="7.0" fill="#0a0a92"/><rect x="394.4" y="211.1" width="7.0" height="7.0" fill="#0a0a92"/><circle cx="118.8" cy="188.7" r="3.80" fill="#d24e16"/><circle cx="124.8" cy="184.4" r="3.80" fill="#d24e16"/><circle cx="130.8" cy="179.5" r="3.80" fill="#d24e16"/><circle cx="136.8" cy="173.7" r="3.80" fill="#d24e16"/><circle cx="142.8" cy="167.1" r="3.80" fill="#d24e16"/><circle cx="148.8" cy="159.5" r="3.80" fill="#d24e16"/><circle cx="154.8" cy="150.8" r="3.80" fill="#d24e16"/><circle cx="160.8" cy="141.1" r="3.80" fill="#d24e16"/><circle cx="166.8" cy="130.3" r="3.80" fill="#d24e16"/><circle cx="172.8" cy="118.7" r="3.80" fill="#d24e16"/><circle cx="178.8" cy="106.5" r="3.80" fill="#d24e16"/><circle cx="184.8" cy="94.3" r="3.80" fill="#d24e16"/><circle cx="190.8" cy="82.8" r="3.80" fill="#d24e16"/><circle cx="196.8" cy="72.8" r="3.80" fill="#d24e16"/><circle cx="202.8" cy="65.2" r="3.80" fill="#d24e16"/><circle cx="208.8" cy="60.8" r="3.80" fill="#d24e16"/><circle cx="214.8" cy="59.9" r="3.80" fill="#d24e16"/><circle cx="220.8" cy="62.3" r="3.80" fill="#d24e16"/><circle cx="226.8" cy="67.6" r="3.80" fill="#d24e16"/><circle cx="232.8" cy="75.1" r="3.80" fill="#d24e16"/><circle cx="238.8" cy="83.7" r="3.80" fill="#d24e16"/><circle cx="241.8" cy="92.3" r="3.80" fill="#d24e16"/><circle cx="247.8" cy="100.5" r="3.80" fill="#d24e16"/><circle cx="253.8" cy="108.8" r="3.80" fill="#d24e16"/><circle cx="259.8" cy="116.6" r="3.80" fill="#d24e16"/><circle cx="265.8" cy="124.0" r="3.80" fill="#d24e16"/><circle cx="271.8" cy="130.8" r="3.80" fill="#d24e16"/><circle cx="277.8" cy="137.0" r="3.80" fill="#d24e16"/><circle cx="283.9" cy="142.6" r="3.80" fill="#d24e16"/><circle cx="289.9" cy="147.8" r="3.80" fill="#d24e16"/><circle cx="295.9" cy="152.6" r="3.80" fill="#d24e16"/><circle cx="301.9" cy="157.0" r="3.80" fill="#d24e16"/><circle cx="307.9" cy="161.2" r="3.80" fill="#d24e16"/><circle cx="313.9" cy="165.1" r="3.80" fill="#d24e16"/><circle cx="319.9" cy="168.9" r="3.80" fill="#d24e16"/><circle cx="325.9" cy="172.4" r="3.80" fill="#d24e16"/><circle cx="331.9" cy="175.8" r="3.80" fill="#d24e16"/><circle cx="337.9" cy="179.1" r="3.80" fill="#d24e16"/><circle cx="343.9" cy="182.3" r="3.80" fill="#d24e16"/><circle cx="349.9" cy="185.4" r="3.80" fill="#d24e16"/><circle cx="355.9" cy="188.5" r="3.80" fill="#d24e16"/><circle cx="361.9" cy="191.6" r="3.80" fill="#d24e16"/><circle cx="367.9" cy="194.6" r="3.80" fill="#d24e16"/><circle cx="373.9" cy="197.8" r="3.80" fill="#d24e16"/><circle cx="379.9" cy="201.1" r="3.80" fill="#d24e16"/><circle cx="385.9" cy="204.7" r="3.80" fill="#d24e16"/><circle cx="391.9" cy="208.5" r="3.80" fill="#d24e16"/><circle cx="397.9" cy="212.8" r="3.80" fill="#d24e16"/><path d="M925.2 202.3L929.8 206.9L925.2 211.5L920.6 206.9Z" fill="#000000"/><path d="M924.3 200.7L928.9 205.3L924.3 209.9L919.7 205.3Z" fill="#000000"/><path d="M923.3 198.8L927.9 203.4L923.3 208.0L918.7 203.4Z" fill="#000000"/><path d="M922.0 196.7L926.6 201.3L922.0 205.9L917.4 201.3Z" fill="#000000"/><path d="M920.4 194.2L925.0 198.8L920.4 203.4L915.8 198.8Z" fill="#000000"/><path d="M918.5 191.3L923.1 195.9L918.5 200.5L913.9 195.9Z" fill="#000000"/><path d="M916.2 188.1L920.8 192.7L916.2 197.3L911.6 192.7Z" fill="#000000"/><path d="M913.4 184.4L918.0 189.0L913.4 193.6L908.8 189.0Z" fill="#000000"/><path d="M910.0 180.3L914.6 184.9L910.0 189.5L905.4 184.9Z" fill="#000000"/><path d="M905.9 175.7L910.5 180.3L905.9 184.9L901.3 180.3Z" fill="#000000"/><path d="M900.9 170.8L905.5 175.4L900.9 180.0L896.3 175.4Z" fill="#000000"/><path d="M732.6 149.0L737.2 153.6L732.6 158.2L728.0 153.6Z" fill="#000000"/><path d="M722.5 152.3L727.1 156.9L722.5 161.5L717.9 156.9Z" fill="#000000"/><path d="M713.2 155.7L717.8 160.3L713.2 164.9L708.6 160.3Z" fill="#000000"/><path d="M704.8 159.3L709.4 163.9L704.8 168.5L700.2 163.9Z" fill="#000000"/><path d="M697.1 163.0L701.7 167.6L697.1 172.2L692.5 167.6Z" fill="#000000"/><path d="M690.1 166.6L694.7 171.2L690.1 175.8L685.5 171.2Z" fill="#000000"/><path d="M683.8 170.3L688.4 174.9L683.8 179.5L679.2 174.9Z" fill="#000000"/><path d="M678.2 173.9L682.8 178.5L678.2 183.1L673.6 178.5Z" fill="#000000"/><path d="M673.2 177.4L677.8 182.0L673.2 186.6L668.6 182.0Z" fill="#000000"/><path d="M668.9 180.6L673.5 185.2L668.9 189.8L664.3 185.2Z" fill="#000000"/><path d="M665.0 183.6L669.6 188.2L665.0 192.8L660.4 188.2Z" fill="#000000"/><path d="M661.7 186.4L666.3 191.0L661.7 195.6L657.1 191.0Z" fill="#000000"/><path d="M658.6 188.9L663.2 193.5L658.6 198.1L654.0 193.5Z" fill="#000000"/><path d="M655.8 191.1L660.4 195.7L655.8 200.3L651.2 195.7Z" fill="#000000"/><path d="M653.2 193.2L657.8 197.8L653.2 202.4L648.6 197.8Z" fill="#000000"/><path d="M650.6 195.2L655.2 199.8L650.6 204.4L646.0 199.8Z" fill="#000000"/><path d="M648.0 197.2L652.6 201.8L648.0 206.4L643.4 201.8Z" fill="#000000"/><path d="M645.4 199.4L650.0 204.0L645.4 208.6L640.8 204.0Z" fill="#000000"/><path d="M642.7 202.0L647.3 206.6L642.7 211.2L638.1 206.6Z" fill="#000000"/><path d="M639.9 205.1L644.5 209.7L639.9 214.3L635.3 209.7Z" fill="#000000"/><path d="M637.3 209.0L641.9 213.6L637.3 218.2L632.7 213.6Z" fill="#000000"/><path d="M748.8 142.7L753.4 147.3L748.8 151.9L744.2 147.3Z" fill="#000000"/><path d="M757.7 140.9L762.3 145.5L757.7 150.1L753.1 145.5Z" fill="#000000"/><path d="M772.8 135.6L777.4 140.2L772.8 144.8L768.2 140.2Z" fill="#000000"/><path d="M783.5 133.8L788.1 138.4L783.5 143.0L778.9 138.4Z" fill="#000000"/><path d="M808.6 133.8L813.2 138.4L808.6 143.0L804.0 138.4Z" fill="#000000"/><path d="M824.3 137.6L828.9 142.2L824.3 146.8L819.7 142.2Z" fill="#000000"/><path d="M836.7 135.9L841.3 140.5L836.7 145.1L832.1 140.5Z" fill="#000000"/><path d="M853.0 141.8L857.6 146.4L853.0 151.0L848.4 146.4Z" fill="#000000"/><path d="M862.2 145.6L866.8 150.2L862.2 154.8L857.6 150.2Z" fill="#000000"/><path d="M873.1 151.6L877.7 156.2L873.1 160.8L868.5 156.2Z" fill="#000000"/><path d="M882.7 156.0L887.3 160.6L882.7 165.2L878.1 160.6Z" fill="#000000"/><path d="M890.6 162.6L895.2 167.2L890.6 171.8L886.0 167.2Z" fill="#000000"/><path d="M954.3 208.7L958.3 201.7L950.3 201.7Z" fill="#8e0c0c"/><path d="M953.1 206.8L957.1 199.8L949.1 199.8Z" fill="#8e0c0c"/><path d="M951.8 204.6L955.8 197.6L947.8 197.6Z" fill="#8e0c0c"/><path d="M950.2 202.0L954.2 195.0L946.2 195.0Z" fill="#8e0c0c"/><path d="M948.2 199.1L952.2 192.1L944.2 192.1Z" fill="#8e0c0c"/><path d="M945.9 195.8L949.9 188.8L941.9 188.8Z" fill="#8e0c0c"/><path d="M943.0 192.0L947.0 185.0L939.0 185.0Z" fill="#8e0c0c"/><path d="M939.6 187.7L943.6 180.7L935.6 180.7Z" fill="#8e0c0c"/><path d="M935.4 183.0L939.4 176.0L931.4 176.0Z" fill="#8e0c0c"/><path d="M930.4 177.8L934.4 170.8L926.4 170.8Z" fill="#8e0c0c"/><path d="M924.4 172.2L928.4 165.2L920.4 165.2Z" fill="#8e0c0c"/><path d="M917.3 166.3L921.3 159.3L913.3 159.3Z" fill="#8e0c0c"/><path d="M908.9 160.3L912.9 153.3L904.9 153.3Z" fill="#8e0c0c"/><path d="M736.2 153.2L740.2 146.2L732.2 146.2Z" fill="#8e0c0c"/><path d="M725.6 157.0L729.6 150.0L721.6 150.0Z" fill="#8e0c0c"/><path d="M715.9 160.9L719.9 153.9L711.9 153.9Z" fill="#8e0c0c"/><path d="M707.3 165.0L711.3 158.0L703.3 158.0Z" fill="#8e0c0c"/><path d="M699.4 169.2L703.4 162.2L695.4 162.2Z" fill="#8e0c0c"/><path d="M692.4 173.2L696.4 166.2L688.4 166.2Z" fill="#8e0c0c"/><path d="M686.2 177.2L690.2 170.2L682.2 170.2Z" fill="#8e0c0c"/><path d="M680.6 180.9L684.6 173.9L676.6 173.9Z" fill="#8e0c0c"/><path d="M675.7 184.4L679.7 177.4L671.7 177.4Z" fill="#8e0c0c"/><path d="M671.3 187.6L675.3 180.6L667.3 180.6Z" fill="#8e0c0c"/><path d="M667.4 190.5L671.4 183.5L663.4 183.5Z" fill="#8e0c0c"/><path d="M663.8 193.2L667.8 186.2L659.8 186.2Z" fill="#8e0c0c"/><path d="M660.6 195.6L664.6 188.6L656.6 188.6Z" fill="#8e0c0c"/><path d="M657.5 197.8L661.5 190.8L653.5 190.8Z" fill="#8e0c0c"/><path d="M654.5 199.8L658.5 192.8L650.5 192.8Z" fill="#8e0c0c"/><path d="M651.6 201.9L655.6 194.9L647.6 194.9Z" fill="#8e0c0c"/><path d="M648.6 204.1L652.6 197.1L644.6 197.1Z" fill="#8e0c0c"/><path d="M645.7 206.5L649.7 199.5L641.7 199.5Z" fill="#8e0c0c"/><path d="M642.8 209.4L646.8 202.4L638.8 202.4Z" fill="#8e0c0c"/><path d="M640.0 212.8L644.0 205.8L636.0 205.8Z" fill="#8e0c0c"/><path d="M637.3 217.0L641.3 210.0L633.3 210.0Z" fill="#8e0c0c"/><path d="M752.4 143.1L756.4 136.1L748.4 136.1Z" fill="#8e0c0c"/><path d="M764.8 143.1L768.8 136.1L760.8 136.1Z" fill="#8e0c0c"/><path d="M780.0 137.8L784.0 130.8L776.0 130.8Z" fill="#8e0c0c"/><path d="M790.9 136.3L794.9 129.3L786.9 129.3Z" fill="#8e0c0c"/><path d="M819.9 136.3L823.9 129.3L815.9 129.3Z" fill="#8e0c0c"/><path d="M837.6 136.3L841.6 129.3L833.6 129.3Z" fill="#8e0c0c"/><path d="M851.0 137.8L855.0 130.8L847.0 130.8Z" fill="#8e0c0c"/><path d="M867.8 140.8L871.8 133.8L863.8 133.8Z" fill="#8e0c0c"/><path d="M881.0 146.0L885.0 139.0L877.0 139.0Z" fill="#8e0c0c"/><path d="M893.8 150.5L897.8 143.5L889.8 143.5Z" fill="#8e0c0c"/><path d="M995.8 199.2L999.8 206.2L991.8 206.2Z" fill="#0e6e12"/><path d="M994.6 196.7L998.6 203.7L990.6 203.7Z" fill="#0e6e12"/><path d="M993.0 193.9L997.0 200.9L989.0 200.9Z" fill="#0e6e12"/><path d="M991.0 190.6L995.0 197.6L987.0 197.6Z" fill="#0e6e12"/><path d="M988.4 186.9L992.4 193.9L984.4 193.9Z" fill="#0e6e12"/><path d="M985.3 182.8L989.3 189.8L981.3 189.8Z" fill="#0e6e12"/><path d="M981.4 178.3L985.4 185.3L977.4 185.3Z" fill="#0e6e12"/><path d="M976.8 173.6L980.8 180.6L972.8 180.6Z" fill="#0e6e12"/><path d="M971.6 168.5L975.6 175.5L967.6 175.5Z" fill="#0e6e12"/><path d="M965.6 163.0L969.6 170.0L961.6 170.0Z" fill="#0e6e12"/><path d="M958.7 157.1L962.7 164.1L954.7 164.1Z" fill="#0e6e12"/><path d="M950.9 150.7L954.9 157.7L946.9 157.7Z" fill="#0e6e12"/><path d="M941.7 143.8L945.7 150.8L937.7 150.8Z" fill="#0e6e12"/><path d="M931.0 136.7L935.0 143.7L927.0 143.7Z" fill="#0e6e12"/><path d="M918.6 129.6L922.6 136.6L914.6 136.6Z" fill="#0e6e12"/><path d="M904.3 123.0L908.3 130.0L900.3 130.0Z" fill="#0e6e12"/><path d="M740.4 141.6L744.4 148.6L736.4 148.6Z" fill="#0e6e12"/><path d="M729.9 146.5L733.9 153.5L725.9 153.5Z" fill="#0e6e12"/><path d="M720.6 151.1L724.6 158.1L716.6 158.1Z" fill="#0e6e12"/><path d="M712.2 155.4L716.2 162.4L708.2 162.4Z" fill="#0e6e12"/><path d="M704.7 159.5L708.7 166.5L700.7 166.5Z" fill="#0e6e12"/><path d="M697.7 163.2L701.7 170.2L693.7 170.2Z" fill="#0e6e12"/><path d="M691.3 166.7L695.3 173.7L687.3 173.7Z" fill="#0e6e12"/><path d="M685.4 170.0L689.4 177.0L681.4 177.0Z" fill="#0e6e12"/><path d="M679.9 173.1L683.9 180.1L675.9 180.1Z" fill="#0e6e12"/><path d="M674.7 176.0L678.7 183.0L670.7 183.0Z" fill="#0e6e12"/><path d="M669.9 178.9L673.9 185.9L665.9 185.9Z" fill="#0e6e12"/><path d="M665.5 181.6L669.5 188.6L661.5 188.6Z" fill="#0e6e12"/><path d="M661.3 184.4L665.3 191.4L657.3 191.4Z" fill="#0e6e12"/><path d="M657.5 187.1L661.5 194.1L653.5 194.1Z" fill="#0e6e12"/><path d="M654.1 189.8L658.1 196.8L650.1 196.8Z" fill="#0e6e12"/><path d="M650.9 192.6L654.9 199.6L646.9 199.6Z" fill="#0e6e12"/><path d="M648.0 195.5L652.0 202.5L644.0 202.5Z" fill="#0e6e12"/><path d="M645.4 198.5L649.4 205.5L641.4 205.5Z" fill="#0e6e12"/><path d="M643.0 201.7L647.0 208.7L639.0 208.7Z" fill="#0e6e12"/><path d="M640.9 205.1L644.9 212.1L636.9 212.1Z" fill="#0e6e12"/><path d="M639.0 209.0L643.0 216.0L635.0 216.0Z" fill="#0e6e12"/><path d="M757.7 129.3L761.7 136.3L753.7 136.3Z" fill="#0e6e12"/><path d="M771.0 127.5L775.0 134.5L767.0 134.5Z" fill="#0e6e12"/><path d="M785.9 122.8L789.9 129.8L781.9 129.8Z" fill="#0e6e12"/><path d="M802.0 118.2L806.0 125.2L798.0 125.2Z" fill="#0e6e12"/><path d="M835.3 110.9L839.3 117.9L831.3 117.9Z" fill="#0e6e12"/><path d="M838.2 118.9L842.2 125.9L834.2 125.9Z" fill="#0e6e12"/><path d="M851.0 111.8L855.0 118.8L847.0 118.8Z" fill="#0e6e12"/><path d="M869.3 111.8L873.3 118.8L865.3 118.8Z" fill="#0e6e12"/><path d="M885.9 118.2L889.9 125.2L881.9 125.2Z" fill="#0e6e12"/><rect x="1055.5" y="195.0" width="7.0" height="7.0" fill="#0a0a92"/><rect x="1053.7" y="192.0" width="7.0" height="7.0" fill="#0a0a92"/><rect x="1051.6" y="188.5" width="7.0" height="7.0" fill="#0a0a92"/><rect x="1049.0" y="184.5" width="7.0" height="7.0" fill="#0a0a92"/><rect x="1045.8" y="179.9" width="7.0" height="7.0" fill="#0a0a92"/><rect x="1042.0" y="174.7" width="7.0" height="7.0" fill="#0a0a92"/><rect x="1037.4" y="168.8" width="7.0" height="7.0" fill="#0a0a92"/><rect x="1031.8" y="162.2" width="7.0" height="7.0" fill="#0a0a92"/><rect x="1025.0" y="155.0" width="7.0" height="7.0" fill="#0a0a92"/><rect x="1016.9" y="147.1" width="7.0" height="7.0" fill="#0a0a92"/><rect x="1007.2" y="138.9" width="7.0" height="7.0" fill="#0a0a92"/><rect x="995.7" y="130.3" width="7.0" height="7.0" fill="#0a0a92"/><rect x="982.3" y="121.8" width="7.0" height="7.0" fill="#0a0a92"/><rect x="967.0" y="113.7" width="7.0" height="7.0" fill="#0a0a92"/><rect x="949.7" y="106.5" width="7.0" height="7.0" fill="#0a0a92"/><rect x="930.7" y="100.6" width="7.0" height="7.0" fill="#0a0a92"/><rect x="910.4" y="96.3" width="7.0" height="7.0" fill="#0a0a92"/><rect x="734.2" y="140.4" width="7.0" height="7.0" fill="#0a0a92"/><rect x="723.9" y="145.5" width="7.0" height="7.0" fill="#0a0a92"/><rect x="714.7" y="150.4" width="7.0" height="7.0" fill="#0a0a92"/><rect x="706.3" y="155.1" width="7.0" height="7.0" fill="#0a0a92"/><rect x="698.8" y="159.6" width="7.0" height="7.0" fill="#0a0a92"/><rect x="692.0" y="163.8" width="7.0" height="7.0" fill="#0a0a92"/><rect x="685.9" y="167.8" width="7.0" height="7.0" fill="#0a0a92"/><rect x="680.3" y="171.6" width="7.0" height="7.0" fill="#0a0a92"/><rect x="675.3" y="175.0" width="7.0" height="7.0" fill="#0a0a92"/><rect x="670.7" y="178.2" width="7.0" height="7.0" fill="#0a0a92"/><rect x="666.6" y="181.1" width="7.0" height="7.0" fill="#0a0a92"/><rect x="662.8" y="183.7" width="7.0" height="7.0" fill="#0a0a92"/><rect x="659.2" y="186.1" width="7.0" height="7.0" fill="#0a0a92"/><rect x="655.7" y="188.3" width="7.0" height="7.0" fill="#0a0a92"/><rect x="652.1" y="190.5" width="7.0" height="7.0" fill="#0a0a92"/><rect x="648.5" y="192.8" width="7.0" height="7.0" fill="#0a0a92"/><rect x="644.7" y="195.5" width="7.0" height="7.0" fill="#0a0a92"/><rect x="640.8" y="198.8" width="7.0" height="7.0" fill="#0a0a92"/><rect x="637.0" y="203.1" width="7.0" height="7.0" fill="#0a0a92"/><rect x="633.4" y="208.4" width="7.0" height="7.0" fill="#0a0a92"/><rect x="750.5" y="129.0" width="7.0" height="7.0" fill="#0a0a92"/><rect x="764.4" y="121.7" width="7.0" height="7.0" fill="#0a0a92"/><rect x="780.9" y="117.2" width="7.0" height="7.0" fill="#0a0a92"/><rect x="792.7" y="111.2" width="7.0" height="7.0" fill="#0a0a92"/><rect x="809.9" y="107.4" width="7.0" height="7.0" fill="#0a0a92"/><rect x="820.2" y="112.1" width="7.0" height="7.0" fill="#0a0a92"/><rect x="848.0" y="98.8" width="7.0" height="7.0" fill="#0a0a92"/><rect x="868.2" y="95.0" width="7.0" height="7.0" fill="#0a0a92"/><rect x="888.3" y="94.1" width="7.0" height="7.0" fill="#0a0a92"/><circle cx="1195.4" cy="191.8" r="3.80" fill="#d24e16"/><circle cx="1189.8" cy="185.9" r="3.80" fill="#d24e16"/><circle cx="1183.4" cy="180.6" r="3.80" fill="#d24e16"/><circle cx="1176.8" cy="174.7" r="3.80" fill="#d24e16"/><circle cx="1170.1" cy="167.8" r="3.80" fill="#d24e16"/><circle cx="1162.9" cy="160.1" r="3.80" fill="#d24e16"/><circle cx="1154.3" cy="151.3" r="3.80" fill="#d24e16"/><circle cx="1143.9" cy="142.4" r="3.80" fill="#d24e16"/><circle cx="1132.4" cy="131.1" r="3.80" fill="#d24e16"/><circle cx="1119.0" cy="119.9" r="3.80" fill="#d24e16"/><circle cx="1102.4" cy="108.0" r="3.80" fill="#d24e16"/><circle cx="1083.5" cy="94.8" r="3.80" fill="#d24e16"/><circle cx="1061.2" cy="82.6" r="3.80" fill="#d24e16"/><circle cx="1037.2" cy="73.0" r="3.80" fill="#d24e16"/><circle cx="1007.9" cy="65.0" r="3.80" fill="#d24e16"/><circle cx="978.6" cy="60.2" r="3.80" fill="#d24e16"/><circle cx="947.8" cy="60.2" r="3.80" fill="#d24e16"/><circle cx="918.5" cy="64.0" r="3.80" fill="#d24e16"/><circle cx="893.2" cy="69.8" r="3.80" fill="#d24e16"/><circle cx="869.8" cy="77.3" r="3.80" fill="#d24e16"/><circle cx="738.0" cy="145.6" r="3.80" fill="#d24e16"/><circle cx="728.5" cy="150.2" r="3.80" fill="#d24e16"/><circle cx="719.7" cy="154.6" r="3.80" fill="#d24e16"/><circle cx="711.4" cy="158.8" r="3.80" fill="#d24e16"/><circle cx="703.6" cy="162.7" r="3.80" fill="#d24e16"/><circle cx="696.4" cy="166.6" r="3.80" fill="#d24e16"/><circle cx="689.7" cy="170.3" r="3.80" fill="#d24e16"/><circle cx="683.5" cy="173.9" r="3.80" fill="#d24e16"/><circle cx="677.7" cy="177.4" r="3.80" fill="#d24e16"/><circle cx="672.5" cy="180.9" r="3.80" fill="#d24e16"/><circle cx="667.8" cy="184.2" r="3.80" fill="#d24e16"/><circle cx="663.5" cy="187.5" r="3.80" fill="#d24e16"/><circle cx="659.6" cy="190.7" r="3.80" fill="#d24e16"/><circle cx="656.1" cy="193.9" r="3.80" fill="#d24e16"/><circle cx="652.9" cy="197.0" r="3.80" fill="#d24e16"/><circle cx="650.1" cy="200.3" r="3.80" fill="#d24e16"/><circle cx="647.6" cy="203.6" r="3.80" fill="#d24e16"/><circle cx="645.3" cy="207.0" r="3.80" fill="#d24e16"/><circle cx="643.3" cy="210.8" r="3.80" fill="#d24e16"/><circle cx="641.5" cy="214.9" r="3.80" fill="#d24e16"/><circle cx="638.0" cy="216.0" r="3.80" fill="#d24e16"/><circle cx="639.6" cy="213.0" r="3.80" fill="#d24e16"/><circle cx="754.2" cy="133.1" r="3.80" fill="#d24e16"/><circle cx="766.6" cy="127.4" r="3.80" fill="#d24e16"/><circle cx="779.9" cy="118.1" r="3.80" fill="#d24e16"/><circle cx="795.0" cy="109.3" r="3.80" fill="#d24e16"/><circle cx="810.0" cy="103.1" r="3.80" fill="#d24e16"/><circle cx="828.0" cy="94.5" r="3.80" fill="#d24e16"/><circle cx="851.2" cy="91.9" r="3.80" fill="#d24e16"/></g>
<g stroke="#141414" stroke-width="0.4"><text transform="translate(92.00 223.80) scale(1.05 1)" font-size="20" text-anchor="end" fill="#141414" style="font-family:Liberation Sans, sans-serif">0.00</text><text transform="translate(92.00 171.90) scale(1.05 1)" font-size="20" text-anchor="end" fill="#141414" style="font-family:Liberation Sans, sans-serif">0.05</text><text transform="translate(92.00 120.00) scale(1.05 1)" font-size="20" text-anchor="end" fill="#141414" style="font-family:Liberation Sans, sans-serif">0.10</text><text transform="translate(92.00 68.10) scale(1.05 1)" font-size="20" text-anchor="end" fill="#141414" style="font-family:Liberation Sans, sans-serif">0.15</text><text transform="translate(92.00 16.20) scale(1.05 1)" font-size="20" text-anchor="end" fill="#141414" style="font-family:Liberation Sans, sans-serif">0.20</text><text transform="translate(119.3 254.0) scale(1.07 1)" font-size="18.8" text-anchor="middle" fill="#141414" style="font-family:Liberation Sans, sans-serif">10<tspan font-size="12.5" dy="-14" stroke-width="0">-1</tspan></text><text transform="translate(179.3 254.0) scale(1.07 1)" font-size="18.8" text-anchor="middle" fill="#141414" style="font-family:Liberation Sans, sans-serif">10<tspan font-size="12.5" dy="-14" stroke-width="0">0</tspan></text><text transform="translate(239.3 254.0) scale(1.07 1)" font-size="18.8" text-anchor="middle" fill="#141414" style="font-family:Liberation Sans, sans-serif">10<tspan font-size="12.5" dy="-14" stroke-width="0">1</tspan></text><text transform="translate(299.4 254.0) scale(1.07 1)" font-size="18.8" text-anchor="middle" fill="#141414" style="font-family:Liberation Sans, sans-serif">10<tspan font-size="12.5" dy="-14" stroke-width="0">2</tspan></text><text transform="translate(359.4 254.0) scale(1.07 1)" font-size="18.8" text-anchor="middle" fill="#141414" style="font-family:Liberation Sans, sans-serif">10<tspan font-size="12.5" dy="-14" stroke-width="0">3</tspan></text><text transform="translate(419.4 254.0) scale(1.07 1)" font-size="18.8" text-anchor="middle" fill="#141414" style="font-family:Liberation Sans, sans-serif">10<tspan font-size="12.5" dy="-14" stroke-width="0">4</tspan></text><text transform="translate(479.4 254.0) scale(1.07 1)" font-size="18.8" text-anchor="middle" fill="#141414" style="font-family:Liberation Sans, sans-serif">10<tspan font-size="12.5" dy="-14" stroke-width="0">5</tspan></text><text transform="translate(195.00 288.80) scale(1.172 1)" font-size="23.6" text-anchor="start" fill="#141414" style="font-family:Liberation Sans, sans-serif">Frequency (Hz)</text><text stroke-width="0" transform="translate(276.20 330.60) scale(1.0 1)" font-size="29" text-anchor="middle" fill="#141414" style="font-family:Liberation Sans, sans-serif">(a)</text><text transform="translate(322.30 49.00) scale(1.16 1)" font-size="17.5" text-anchor="start" fill="#141414" style="font-family:Liberation Sans, sans-serif">800ºC</text><text transform="translate(322.30 70.30) scale(1.17 1)" font-size="17.5" text-anchor="start" fill="#141414" style="font-family:Liberation Sans, sans-serif">Single-step 4h</text><text transform="translate(33.20 192.50) rotate(-90) scale(1.0 1)" font-size="25.5" text-anchor="start" fill="#141414" style="font-family:Liberation Sans, sans-serif">-Z</text><text transform="translate(40.20 168.80) rotate(-90) scale(1.12 1)" font-size="17" text-anchor="start" fill="#141414" style="font-family:Liberation Sans, sans-serif">Imag</text><text stroke-width="0.35" transform="translate(33.50 122.50) rotate(-90) scale(1.09 1)" font-size="25.5" text-anchor="start" fill="#141414" style="font-family:Liberation Serif, serif">(Ω·cm</text><text stroke-width="0.35" transform="translate(15.00 48.00) rotate(-90) scale(1.0 1)" font-size="16" text-anchor="start" fill="#141414" style="font-family:Liberation Serif, serif">2</text><text stroke-width="0.35" transform="translate(31.50 38.00) rotate(-90) scale(1.0 1)" font-size="20" text-anchor="start" fill="#141414" style="font-family:Liberation Serif, serif">)</text><text transform="translate(539.30 245.00) scale(1.15 1)" font-size="18.8" text-anchor="middle" fill="#141414" style="font-family:Liberation Sans, sans-serif">0.0</text><text transform="translate(643.00 245.00) scale(1.15 1)" font-size="18.8" text-anchor="middle" fill="#141414" style="font-family:Liberation Sans, sans-serif">0.1</text><text transform="translate(746.70 245.00) scale(1.15 1)" font-size="18.8" text-anchor="middle" fill="#141414" style="font-family:Liberation Sans, sans-serif">0.2</text><text transform="translate(850.40 245.00) scale(1.15 1)" font-size="18.8" text-anchor="middle" fill="#141414" style="font-family:Liberation Sans, sans-serif">0.3</text><text transform="translate(954.10 245.00) scale(1.15 1)" font-size="18.8" text-anchor="middle" fill="#141414" style="font-family:Liberation Sans, sans-serif">0.4</text><text transform="translate(1057.80 245.00) scale(1.15 1)" font-size="18.8" text-anchor="middle" fill="#141414" style="font-family:Liberation Sans, sans-serif">0.5</text><text transform="translate(1161.50 245.00) scale(1.15 1)" font-size="18.8" text-anchor="middle" fill="#141414" style="font-family:Liberation Sans, sans-serif">0.6</text><text transform="translate(1265.20 245.00) scale(1.15 1)" font-size="18.8" text-anchor="middle" fill="#141414" style="font-family:Liberation Sans, sans-serif">0.7</text><text transform="translate(825.30 284.00) scale(1.0 1)" font-size="25.5" text-anchor="start" fill="#141414" style="font-family:Liberation Sans, sans-serif">Z</text><text transform="translate(842.80 290.70) scale(1.09 1)" font-size="17.5" text-anchor="start" fill="#141414" style="font-family:Liberation Sans, sans-serif">Real</text><text stroke-width="0.35" transform="translate(887.30 284.30) scale(1.12 1)" font-size="25" text-anchor="start" fill="#141414" style="font-family:Liberation Serif, serif">(Ω·cm</text><text stroke-width="0.35" transform="translate(962.80 267.00) scale(1.0 1)" font-size="16" text-anchor="start" fill="#141414" style="font-family:Liberation Serif, serif">2</text><text stroke-width="0.35" transform="translate(972.00 286.00) scale(1.0 1)" font-size="17" text-anchor="start" fill="#141414" style="font-family:Liberation Serif, serif">)</text><text stroke-width="0" transform="translate(886.00 329.60) scale(1.0 1)" font-size="29" text-anchor="middle" fill="#141414" style="font-family:Liberation Sans, sans-serif">(b)</text><text transform="translate(592 35.3) scale(1.13 1)" font-size="18" fill="#141414" font-family="Liberation Sans, sans-serif">100O<tspan font-size="12.5" dy="5">2</tspan><tspan dy="-5"></tspan></text><text transform="translate(592 61.8) scale(1.13 1)" font-size="18" fill="#141414" font-family="Liberation Sans, sans-serif">80O<tspan font-size="12.5" dy="5">2</tspan><tspan dy="-5"> - 20Ar</tspan></text><text transform="translate(592 89.0) scale(1.13 1)" font-size="18" fill="#141414" font-family="Liberation Sans, sans-serif">60O<tspan font-size="12.5" dy="5">2</tspan><tspan dy="-5"> - 40Ar</tspan></text><text transform="translate(592 115.6) scale(1.13 1)" font-size="18" fill="#141414" font-family="Liberation Sans, sans-serif">40O<tspan font-size="12.5" dy="5">2</tspan><tspan dy="-5"> - 60Ar</tspan></text><text transform="translate(592 142.1) scale(1.13 1)" font-size="18" fill="#141414" font-family="Liberation Sans, sans-serif">20O<tspan font-size="12.5" dy="5">2</tspan><tspan dy="-5"> - 80Ar</tspan></text></g>
<path d="M563.2 20.6L572 29.3L563.2 38L554.4 29.3Z" fill="#000"/><path d="M556.3 51.6L570.9 51.6L563.6 63Z" fill="#8e0c0c"/><path d="M563.4 75.2L570.9 87L555.9 87Z" fill="#0e6e12"/><rect x="557.2" y="103.5" width="12" height="12" fill="#0a0a92"/><circle cx="563.3" cy="135.9" r="6.3" fill="#d24e16"/>
</g></g>
</svg>
</body></html>
